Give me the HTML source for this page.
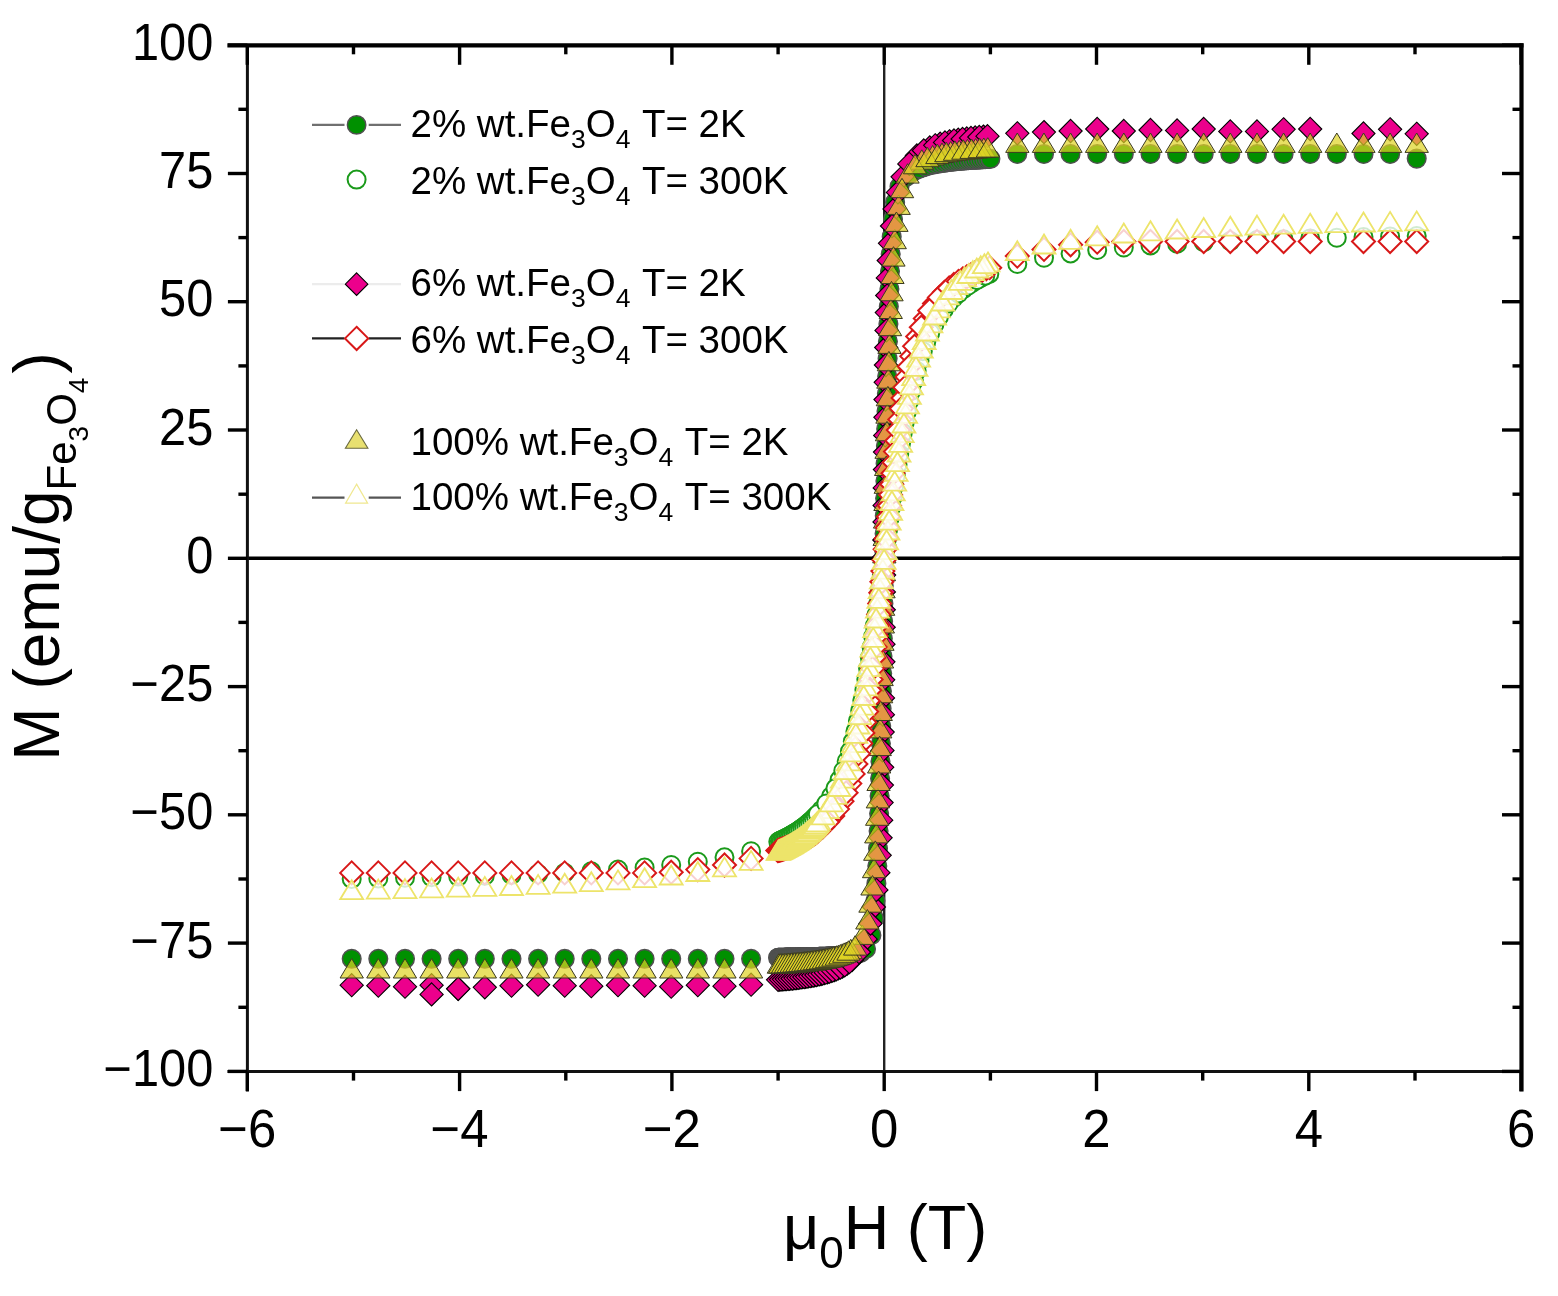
<!DOCTYPE html>
<html><head><meta charset="utf-8"><title>M vs H</title>
<style>
html,body{margin:0;padding:0;background:#fff;}
svg{display:block;filter:blur(0.6px);}
text{font-family:"Liberation Sans",Arial,sans-serif;fill:#000;}
</style></head><body>
<svg width="1558" height="1296" viewBox="0 0 1558 1296">
<rect width="1558" height="1296" fill="#fff"/>
<line x1="247.4" y1="558.3" x2="1521.5" y2="558.3" stroke="#000" stroke-width="3.5"/>
<line x1="884.2" y1="45.3" x2="884.2" y2="1071.6" stroke="#222" stroke-width="2.4"/>
<line x1="227.4" y1="45.3" x2="1523.5" y2="45.3" stroke="#000" stroke-width="4.2"/>
<line x1="1521.5" y1="43.3" x2="1521.5" y2="1091.6" stroke="#000" stroke-width="4.2"/>
<line x1="247.4" y1="45.3" x2="247.4" y2="1091.6" stroke="#111" stroke-width="3"/>
<line x1="227.4" y1="1071.6" x2="1521.5" y2="1071.6" stroke="#111" stroke-width="3"/>
<line x1="227.9" y1="1071.4" x2="247.4" y2="1071.4" stroke="#000" stroke-width="3.4"/>
<line x1="1502.0" y1="1071.4" x2="1521.5" y2="1071.4" stroke="#000" stroke-width="3.4"/>
<line x1="238.4" y1="1007.3" x2="247.4" y2="1007.3" stroke="#000" stroke-width="3.4"/>
<line x1="1512.5" y1="1007.3" x2="1521.5" y2="1007.3" stroke="#000" stroke-width="3.4"/>
<line x1="227.9" y1="943.1" x2="247.4" y2="943.1" stroke="#000" stroke-width="3.4"/>
<line x1="1502.0" y1="943.1" x2="1521.5" y2="943.1" stroke="#000" stroke-width="3.4"/>
<line x1="238.4" y1="879.0" x2="247.4" y2="879.0" stroke="#000" stroke-width="3.4"/>
<line x1="1512.5" y1="879.0" x2="1521.5" y2="879.0" stroke="#000" stroke-width="3.4"/>
<line x1="227.9" y1="814.8" x2="247.4" y2="814.8" stroke="#000" stroke-width="3.4"/>
<line x1="1502.0" y1="814.8" x2="1521.5" y2="814.8" stroke="#000" stroke-width="3.4"/>
<line x1="238.4" y1="750.7" x2="247.4" y2="750.7" stroke="#000" stroke-width="3.4"/>
<line x1="1512.5" y1="750.7" x2="1521.5" y2="750.7" stroke="#000" stroke-width="3.4"/>
<line x1="227.9" y1="686.6" x2="247.4" y2="686.6" stroke="#000" stroke-width="3.4"/>
<line x1="1502.0" y1="686.6" x2="1521.5" y2="686.6" stroke="#000" stroke-width="3.4"/>
<line x1="238.4" y1="622.4" x2="247.4" y2="622.4" stroke="#000" stroke-width="3.4"/>
<line x1="1512.5" y1="622.4" x2="1521.5" y2="622.4" stroke="#000" stroke-width="3.4"/>
<line x1="227.9" y1="558.3" x2="247.4" y2="558.3" stroke="#000" stroke-width="3.4"/>
<line x1="1502.0" y1="558.3" x2="1521.5" y2="558.3" stroke="#000" stroke-width="3.4"/>
<line x1="238.4" y1="494.2" x2="247.4" y2="494.2" stroke="#000" stroke-width="3.4"/>
<line x1="1512.5" y1="494.2" x2="1521.5" y2="494.2" stroke="#000" stroke-width="3.4"/>
<line x1="227.9" y1="430.0" x2="247.4" y2="430.0" stroke="#000" stroke-width="3.4"/>
<line x1="1502.0" y1="430.0" x2="1521.5" y2="430.0" stroke="#000" stroke-width="3.4"/>
<line x1="238.4" y1="365.9" x2="247.4" y2="365.9" stroke="#000" stroke-width="3.4"/>
<line x1="1512.5" y1="365.9" x2="1521.5" y2="365.9" stroke="#000" stroke-width="3.4"/>
<line x1="227.9" y1="301.7" x2="247.4" y2="301.7" stroke="#000" stroke-width="3.4"/>
<line x1="1502.0" y1="301.7" x2="1521.5" y2="301.7" stroke="#000" stroke-width="3.4"/>
<line x1="238.4" y1="237.6" x2="247.4" y2="237.6" stroke="#000" stroke-width="3.4"/>
<line x1="1512.5" y1="237.6" x2="1521.5" y2="237.6" stroke="#000" stroke-width="3.4"/>
<line x1="227.9" y1="173.5" x2="247.4" y2="173.5" stroke="#000" stroke-width="3.4"/>
<line x1="1502.0" y1="173.5" x2="1521.5" y2="173.5" stroke="#000" stroke-width="3.4"/>
<line x1="238.4" y1="109.3" x2="247.4" y2="109.3" stroke="#000" stroke-width="3.4"/>
<line x1="1512.5" y1="109.3" x2="1521.5" y2="109.3" stroke="#000" stroke-width="3.4"/>
<line x1="227.9" y1="45.2" x2="247.4" y2="45.2" stroke="#000" stroke-width="3.4"/>
<line x1="1502.0" y1="45.2" x2="1521.5" y2="45.2" stroke="#000" stroke-width="3.4"/>
<line x1="247.3" y1="1071.6" x2="247.3" y2="1091.1" stroke="#000" stroke-width="3.4"/>
<line x1="247.3" y1="45.3" x2="247.3" y2="64.8" stroke="#000" stroke-width="3.4"/>
<line x1="353.5" y1="1071.6" x2="353.5" y2="1080.6" stroke="#000" stroke-width="3.4"/>
<line x1="353.5" y1="45.3" x2="353.5" y2="54.3" stroke="#000" stroke-width="3.4"/>
<line x1="459.6" y1="1071.6" x2="459.6" y2="1091.1" stroke="#000" stroke-width="3.4"/>
<line x1="459.6" y1="45.3" x2="459.6" y2="64.8" stroke="#000" stroke-width="3.4"/>
<line x1="565.8" y1="1071.6" x2="565.8" y2="1080.6" stroke="#000" stroke-width="3.4"/>
<line x1="565.8" y1="45.3" x2="565.8" y2="54.3" stroke="#000" stroke-width="3.4"/>
<line x1="671.9" y1="1071.6" x2="671.9" y2="1091.1" stroke="#000" stroke-width="3.4"/>
<line x1="671.9" y1="45.3" x2="671.9" y2="64.8" stroke="#000" stroke-width="3.4"/>
<line x1="778.1" y1="1071.6" x2="778.1" y2="1080.6" stroke="#000" stroke-width="3.4"/>
<line x1="778.1" y1="45.3" x2="778.1" y2="54.3" stroke="#000" stroke-width="3.4"/>
<line x1="884.2" y1="1071.6" x2="884.2" y2="1091.1" stroke="#000" stroke-width="3.4"/>
<line x1="884.2" y1="45.3" x2="884.2" y2="64.8" stroke="#000" stroke-width="3.4"/>
<line x1="990.4" y1="1071.6" x2="990.4" y2="1080.6" stroke="#000" stroke-width="3.4"/>
<line x1="990.4" y1="45.3" x2="990.4" y2="54.3" stroke="#000" stroke-width="3.4"/>
<line x1="1096.5" y1="1071.6" x2="1096.5" y2="1091.1" stroke="#000" stroke-width="3.4"/>
<line x1="1096.5" y1="45.3" x2="1096.5" y2="64.8" stroke="#000" stroke-width="3.4"/>
<line x1="1202.7" y1="1071.6" x2="1202.7" y2="1080.6" stroke="#000" stroke-width="3.4"/>
<line x1="1202.7" y1="45.3" x2="1202.7" y2="54.3" stroke="#000" stroke-width="3.4"/>
<line x1="1308.8" y1="1071.6" x2="1308.8" y2="1091.1" stroke="#000" stroke-width="3.4"/>
<line x1="1308.8" y1="45.3" x2="1308.8" y2="64.8" stroke="#000" stroke-width="3.4"/>
<line x1="1415.0" y1="1071.6" x2="1415.0" y2="1080.6" stroke="#000" stroke-width="3.4"/>
<line x1="1415.0" y1="45.3" x2="1415.0" y2="54.3" stroke="#000" stroke-width="3.4"/>
<line x1="1521.1" y1="1071.6" x2="1521.1" y2="1091.1" stroke="#000" stroke-width="3.4"/>
<line x1="1521.1" y1="45.3" x2="1521.1" y2="64.8" stroke="#000" stroke-width="3.4"/>
<g>
<circle cx="1416.7" cy="158.6" r="9.3" fill="#009000" stroke="#505050" stroke-width="1.5"/>
<circle cx="1390.1" cy="154.0" r="9.3" fill="#009000" stroke="#505050" stroke-width="1.5"/>
<circle cx="1363.5" cy="154.0" r="9.3" fill="#009000" stroke="#505050" stroke-width="1.5"/>
<circle cx="1336.8" cy="154.0" r="9.3" fill="#009000" stroke="#505050" stroke-width="1.5"/>
<circle cx="1310.2" cy="154.0" r="9.3" fill="#009000" stroke="#505050" stroke-width="1.5"/>
<circle cx="1283.6" cy="154.0" r="9.3" fill="#009000" stroke="#505050" stroke-width="1.5"/>
<circle cx="1257.0" cy="154.0" r="9.3" fill="#009000" stroke="#505050" stroke-width="1.5"/>
<circle cx="1230.3" cy="154.0" r="9.3" fill="#009000" stroke="#505050" stroke-width="1.5"/>
<circle cx="1203.7" cy="154.0" r="9.3" fill="#009000" stroke="#505050" stroke-width="1.5"/>
<circle cx="1177.1" cy="154.0" r="9.3" fill="#009000" stroke="#505050" stroke-width="1.5"/>
<circle cx="1150.5" cy="154.0" r="9.3" fill="#009000" stroke="#505050" stroke-width="1.5"/>
<circle cx="1123.8" cy="154.0" r="9.3" fill="#009000" stroke="#505050" stroke-width="1.5"/>
<circle cx="1097.2" cy="154.0" r="9.3" fill="#009000" stroke="#505050" stroke-width="1.5"/>
<circle cx="1070.6" cy="154.0" r="9.3" fill="#009000" stroke="#505050" stroke-width="1.5"/>
<circle cx="1044.0" cy="154.0" r="9.3" fill="#009000" stroke="#505050" stroke-width="1.5"/>
<circle cx="1017.3" cy="154.0" r="9.3" fill="#009000" stroke="#505050" stroke-width="1.5"/>
<circle cx="989.1" cy="158.9" r="9.3" fill="#009000" stroke="#505050" stroke-width="1.5"/>
<circle cx="986.6" cy="159.0" r="9.3" fill="#009000" stroke="#505050" stroke-width="1.5"/>
<circle cx="984.0" cy="159.2" r="9.3" fill="#009000" stroke="#505050" stroke-width="1.5"/>
<circle cx="981.4" cy="159.3" r="9.3" fill="#009000" stroke="#505050" stroke-width="1.5"/>
<circle cx="978.8" cy="159.4" r="9.3" fill="#009000" stroke="#505050" stroke-width="1.5"/>
<circle cx="976.2" cy="159.6" r="9.3" fill="#009000" stroke="#505050" stroke-width="1.5"/>
<circle cx="973.6" cy="159.8" r="9.3" fill="#009000" stroke="#505050" stroke-width="1.5"/>
<circle cx="970.9" cy="159.9" r="9.3" fill="#009000" stroke="#505050" stroke-width="1.5"/>
<circle cx="968.3" cy="160.1" r="9.3" fill="#009000" stroke="#505050" stroke-width="1.5"/>
<circle cx="965.6" cy="160.3" r="9.3" fill="#009000" stroke="#505050" stroke-width="1.5"/>
<circle cx="962.9" cy="160.5" r="9.3" fill="#009000" stroke="#505050" stroke-width="1.5"/>
<circle cx="960.2" cy="160.8" r="9.3" fill="#009000" stroke="#505050" stroke-width="1.5"/>
<circle cx="957.4" cy="161.0" r="9.3" fill="#009000" stroke="#505050" stroke-width="1.5"/>
<circle cx="954.6" cy="161.3" r="9.3" fill="#009000" stroke="#505050" stroke-width="1.5"/>
<circle cx="951.7" cy="161.6" r="9.3" fill="#009000" stroke="#505050" stroke-width="1.5"/>
<circle cx="948.8" cy="162.0" r="9.3" fill="#009000" stroke="#505050" stroke-width="1.5"/>
<circle cx="945.8" cy="162.4" r="9.3" fill="#009000" stroke="#505050" stroke-width="1.5"/>
<circle cx="942.7" cy="162.8" r="9.3" fill="#009000" stroke="#505050" stroke-width="1.5"/>
<circle cx="939.4" cy="163.3" r="9.3" fill="#009000" stroke="#505050" stroke-width="1.5"/>
<circle cx="935.9" cy="164.0" r="9.3" fill="#009000" stroke="#505050" stroke-width="1.5"/>
<circle cx="932.1" cy="164.8" r="9.3" fill="#009000" stroke="#505050" stroke-width="1.5"/>
<circle cx="927.9" cy="165.8" r="9.3" fill="#009000" stroke="#505050" stroke-width="1.5"/>
<circle cx="922.9" cy="167.3" r="9.3" fill="#009000" stroke="#505050" stroke-width="1.5"/>
<circle cx="916.4" cy="170.0" r="9.3" fill="#009000" stroke="#505050" stroke-width="1.5"/>
<circle cx="906.2" cy="176.9" r="9.3" fill="#009000" stroke="#505050" stroke-width="1.5"/>
<circle cx="895.1" cy="202.2" r="9.3" fill="#009000" stroke="#505050" stroke-width="1.5"/>
<circle cx="891.7" cy="236.7" r="9.3" fill="#009000" stroke="#505050" stroke-width="1.5"/>
<circle cx="890.0" cy="271.3" r="9.3" fill="#009000" stroke="#505050" stroke-width="1.5"/>
<circle cx="888.8" cy="306.5" r="9.3" fill="#009000" stroke="#505050" stroke-width="1.5"/>
<circle cx="887.9" cy="341.4" r="9.3" fill="#009000" stroke="#505050" stroke-width="1.5"/>
<circle cx="887.2" cy="376.2" r="9.3" fill="#009000" stroke="#505050" stroke-width="1.5"/>
<circle cx="886.5" cy="411.2" r="9.3" fill="#009000" stroke="#505050" stroke-width="1.5"/>
<circle cx="885.9" cy="446.0" r="9.3" fill="#009000" stroke="#505050" stroke-width="1.5"/>
<circle cx="885.4" cy="481.1" r="9.3" fill="#009000" stroke="#505050" stroke-width="1.5"/>
<circle cx="884.8" cy="515.7" r="9.3" fill="#009000" stroke="#505050" stroke-width="1.5"/>
<circle cx="884.3" cy="551.2" r="9.3" fill="#009000" stroke="#505050" stroke-width="1.5"/>
<circle cx="883.7" cy="585.8" r="9.3" fill="#009000" stroke="#505050" stroke-width="1.5"/>
<circle cx="883.1" cy="621.2" r="9.3" fill="#009000" stroke="#505050" stroke-width="1.5"/>
<circle cx="882.5" cy="656.2" r="9.3" fill="#009000" stroke="#505050" stroke-width="1.5"/>
<circle cx="881.9" cy="691.2" r="9.3" fill="#009000" stroke="#505050" stroke-width="1.5"/>
<circle cx="881.2" cy="726.1" r="9.3" fill="#009000" stroke="#505050" stroke-width="1.5"/>
<circle cx="880.5" cy="761.3" r="9.3" fill="#009000" stroke="#505050" stroke-width="1.5"/>
<circle cx="879.6" cy="796.1" r="9.3" fill="#009000" stroke="#505050" stroke-width="1.5"/>
<circle cx="878.6" cy="831.1" r="9.3" fill="#009000" stroke="#505050" stroke-width="1.5"/>
<circle cx="877.3" cy="866.1" r="9.3" fill="#009000" stroke="#505050" stroke-width="1.5"/>
<circle cx="875.4" cy="900.8" r="9.3" fill="#009000" stroke="#505050" stroke-width="1.5"/>
<circle cx="871.4" cy="935.2" r="9.3" fill="#009000" stroke="#505050" stroke-width="1.5"/>
<circle cx="861.0" cy="952.6" r="9.3" fill="#009000" stroke="#505050" stroke-width="1.5"/>
<circle cx="856.2" cy="954.0" r="9.3" fill="#009000" stroke="#505050" stroke-width="1.5"/>
<circle cx="852.8" cy="954.6" r="9.3" fill="#009000" stroke="#505050" stroke-width="1.5"/>
<circle cx="851.4" cy="954.8" r="9.3" fill="#009000" stroke="#505050" stroke-width="1.5"/>
<circle cx="850.3" cy="955.0" r="9.3" fill="#009000" stroke="#505050" stroke-width="1.5"/>
<circle cx="849.3" cy="955.1" r="9.3" fill="#009000" stroke="#505050" stroke-width="1.5"/>
<circle cx="848.3" cy="955.2" r="9.3" fill="#009000" stroke="#505050" stroke-width="1.5"/>
<circle cx="847.3" cy="955.3" r="9.3" fill="#009000" stroke="#505050" stroke-width="1.5"/>
<circle cx="846.3" cy="955.4" r="9.3" fill="#009000" stroke="#505050" stroke-width="1.5"/>
<circle cx="845.3" cy="955.5" r="9.3" fill="#009000" stroke="#505050" stroke-width="1.5"/>
<circle cx="844.4" cy="955.6" r="9.3" fill="#009000" stroke="#505050" stroke-width="1.5"/>
<circle cx="843.4" cy="955.7" r="9.3" fill="#009000" stroke="#505050" stroke-width="1.5"/>
<circle cx="842.5" cy="955.8" r="9.3" fill="#009000" stroke="#505050" stroke-width="1.5"/>
<circle cx="841.5" cy="955.8" r="9.3" fill="#009000" stroke="#505050" stroke-width="1.5"/>
<circle cx="840.6" cy="955.9" r="9.3" fill="#009000" stroke="#505050" stroke-width="1.5"/>
<circle cx="839.7" cy="956.0" r="9.3" fill="#009000" stroke="#505050" stroke-width="1.5"/>
<circle cx="838.7" cy="956.0" r="9.3" fill="#009000" stroke="#505050" stroke-width="1.5"/>
<circle cx="837.8" cy="956.1" r="9.3" fill="#009000" stroke="#505050" stroke-width="1.5"/>
<circle cx="836.9" cy="956.1" r="9.3" fill="#009000" stroke="#505050" stroke-width="1.5"/>
<circle cx="836.0" cy="956.2" r="9.3" fill="#009000" stroke="#505050" stroke-width="1.5"/>
<circle cx="835.1" cy="956.3" r="9.3" fill="#009000" stroke="#505050" stroke-width="1.5"/>
<circle cx="834.2" cy="956.3" r="9.3" fill="#009000" stroke="#505050" stroke-width="1.5"/>
<circle cx="833.3" cy="956.3" r="9.3" fill="#009000" stroke="#505050" stroke-width="1.5"/>
<circle cx="832.4" cy="956.4" r="9.3" fill="#009000" stroke="#505050" stroke-width="1.5"/>
<circle cx="831.5" cy="956.4" r="9.3" fill="#009000" stroke="#505050" stroke-width="1.5"/>
<circle cx="830.5" cy="956.5" r="9.3" fill="#009000" stroke="#505050" stroke-width="1.5"/>
<circle cx="829.7" cy="956.5" r="9.3" fill="#009000" stroke="#505050" stroke-width="1.5"/>
<circle cx="828.8" cy="956.6" r="9.3" fill="#009000" stroke="#505050" stroke-width="1.5"/>
<circle cx="827.9" cy="956.6" r="9.3" fill="#009000" stroke="#505050" stroke-width="1.5"/>
<circle cx="827.0" cy="956.6" r="9.3" fill="#009000" stroke="#505050" stroke-width="1.5"/>
<circle cx="826.1" cy="956.7" r="9.3" fill="#009000" stroke="#505050" stroke-width="1.5"/>
<circle cx="825.2" cy="956.7" r="9.3" fill="#009000" stroke="#505050" stroke-width="1.5"/>
<circle cx="824.3" cy="956.8" r="9.3" fill="#009000" stroke="#505050" stroke-width="1.5"/>
<circle cx="823.4" cy="956.8" r="9.3" fill="#009000" stroke="#505050" stroke-width="1.5"/>
<circle cx="822.5" cy="956.8" r="9.3" fill="#009000" stroke="#505050" stroke-width="1.5"/>
<circle cx="821.6" cy="956.8" r="9.3" fill="#009000" stroke="#505050" stroke-width="1.5"/>
<circle cx="820.7" cy="956.9" r="9.3" fill="#009000" stroke="#505050" stroke-width="1.5"/>
<circle cx="819.8" cy="956.9" r="9.3" fill="#009000" stroke="#505050" stroke-width="1.5"/>
<circle cx="819.0" cy="956.9" r="9.3" fill="#009000" stroke="#505050" stroke-width="1.5"/>
<circle cx="818.1" cy="957.0" r="9.3" fill="#009000" stroke="#505050" stroke-width="1.5"/>
<circle cx="817.2" cy="957.0" r="9.3" fill="#009000" stroke="#505050" stroke-width="1.5"/>
<circle cx="816.3" cy="957.0" r="9.3" fill="#009000" stroke="#505050" stroke-width="1.5"/>
<circle cx="815.4" cy="957.0" r="9.3" fill="#009000" stroke="#505050" stroke-width="1.5"/>
<circle cx="814.5" cy="957.1" r="9.3" fill="#009000" stroke="#505050" stroke-width="1.5"/>
<circle cx="813.6" cy="957.1" r="9.3" fill="#009000" stroke="#505050" stroke-width="1.5"/>
<circle cx="812.8" cy="957.1" r="9.3" fill="#009000" stroke="#505050" stroke-width="1.5"/>
<circle cx="811.9" cy="957.1" r="9.3" fill="#009000" stroke="#505050" stroke-width="1.5"/>
<circle cx="811.0" cy="957.2" r="9.3" fill="#009000" stroke="#505050" stroke-width="1.5"/>
<circle cx="810.1" cy="957.2" r="9.3" fill="#009000" stroke="#505050" stroke-width="1.5"/>
<circle cx="809.2" cy="957.2" r="9.3" fill="#009000" stroke="#505050" stroke-width="1.5"/>
<circle cx="808.4" cy="957.2" r="9.3" fill="#009000" stroke="#505050" stroke-width="1.5"/>
<circle cx="807.5" cy="957.3" r="9.3" fill="#009000" stroke="#505050" stroke-width="1.5"/>
<circle cx="806.6" cy="957.3" r="9.3" fill="#009000" stroke="#505050" stroke-width="1.5"/>
<circle cx="805.7" cy="957.3" r="9.3" fill="#009000" stroke="#505050" stroke-width="1.5"/>
<circle cx="804.8" cy="957.3" r="9.3" fill="#009000" stroke="#505050" stroke-width="1.5"/>
<circle cx="804.0" cy="957.3" r="9.3" fill="#009000" stroke="#505050" stroke-width="1.5"/>
<circle cx="803.1" cy="957.3" r="9.3" fill="#009000" stroke="#505050" stroke-width="1.5"/>
<circle cx="802.2" cy="957.4" r="9.3" fill="#009000" stroke="#505050" stroke-width="1.5"/>
<circle cx="801.3" cy="957.4" r="9.3" fill="#009000" stroke="#505050" stroke-width="1.5"/>
<circle cx="800.4" cy="957.4" r="9.3" fill="#009000" stroke="#505050" stroke-width="1.5"/>
<circle cx="799.6" cy="957.4" r="9.3" fill="#009000" stroke="#505050" stroke-width="1.5"/>
<circle cx="798.7" cy="957.4" r="9.3" fill="#009000" stroke="#505050" stroke-width="1.5"/>
<circle cx="797.8" cy="957.5" r="9.3" fill="#009000" stroke="#505050" stroke-width="1.5"/>
<circle cx="796.9" cy="957.5" r="9.3" fill="#009000" stroke="#505050" stroke-width="1.5"/>
<circle cx="796.0" cy="957.5" r="9.3" fill="#009000" stroke="#505050" stroke-width="1.5"/>
<circle cx="795.2" cy="957.5" r="9.3" fill="#009000" stroke="#505050" stroke-width="1.5"/>
<circle cx="794.3" cy="957.5" r="9.3" fill="#009000" stroke="#505050" stroke-width="1.5"/>
<circle cx="793.4" cy="957.5" r="9.3" fill="#009000" stroke="#505050" stroke-width="1.5"/>
<circle cx="792.5" cy="957.5" r="9.3" fill="#009000" stroke="#505050" stroke-width="1.5"/>
<circle cx="791.7" cy="957.6" r="9.3" fill="#009000" stroke="#505050" stroke-width="1.5"/>
<circle cx="790.8" cy="957.6" r="9.3" fill="#009000" stroke="#505050" stroke-width="1.5"/>
<circle cx="789.9" cy="957.6" r="9.3" fill="#009000" stroke="#505050" stroke-width="1.5"/>
<circle cx="789.0" cy="957.6" r="9.3" fill="#009000" stroke="#505050" stroke-width="1.5"/>
<circle cx="788.1" cy="957.6" r="9.3" fill="#009000" stroke="#505050" stroke-width="1.5"/>
<circle cx="787.3" cy="957.6" r="9.3" fill="#009000" stroke="#505050" stroke-width="1.5"/>
<circle cx="786.4" cy="957.6" r="9.3" fill="#009000" stroke="#505050" stroke-width="1.5"/>
<circle cx="785.5" cy="957.6" r="9.3" fill="#009000" stroke="#505050" stroke-width="1.5"/>
<circle cx="784.6" cy="957.7" r="9.3" fill="#009000" stroke="#505050" stroke-width="1.5"/>
<circle cx="783.8" cy="957.7" r="9.3" fill="#009000" stroke="#505050" stroke-width="1.5"/>
<circle cx="782.9" cy="957.7" r="9.3" fill="#009000" stroke="#505050" stroke-width="1.5"/>
<circle cx="782.0" cy="957.7" r="9.3" fill="#009000" stroke="#505050" stroke-width="1.5"/>
<circle cx="781.1" cy="957.7" r="9.3" fill="#009000" stroke="#505050" stroke-width="1.5"/>
<circle cx="780.2" cy="957.7" r="9.3" fill="#009000" stroke="#505050" stroke-width="1.5"/>
<circle cx="779.4" cy="957.7" r="9.3" fill="#009000" stroke="#505050" stroke-width="1.5"/>
<circle cx="778.5" cy="957.7" r="9.3" fill="#009000" stroke="#505050" stroke-width="1.5"/>
<circle cx="751.1" cy="958.8" r="9.3" fill="#009000" stroke="#505050" stroke-width="1.5"/>
<circle cx="724.5" cy="958.8" r="9.3" fill="#009000" stroke="#505050" stroke-width="1.5"/>
<circle cx="697.8" cy="958.8" r="9.3" fill="#009000" stroke="#505050" stroke-width="1.5"/>
<circle cx="671.2" cy="958.8" r="9.3" fill="#009000" stroke="#505050" stroke-width="1.5"/>
<circle cx="644.6" cy="958.8" r="9.3" fill="#009000" stroke="#505050" stroke-width="1.5"/>
<circle cx="618.0" cy="958.8" r="9.3" fill="#009000" stroke="#505050" stroke-width="1.5"/>
<circle cx="591.3" cy="958.8" r="9.3" fill="#009000" stroke="#505050" stroke-width="1.5"/>
<circle cx="564.7" cy="958.8" r="9.3" fill="#009000" stroke="#505050" stroke-width="1.5"/>
<circle cx="538.1" cy="958.8" r="9.3" fill="#009000" stroke="#505050" stroke-width="1.5"/>
<circle cx="511.5" cy="958.8" r="9.3" fill="#009000" stroke="#505050" stroke-width="1.5"/>
<circle cx="484.8" cy="958.8" r="9.3" fill="#009000" stroke="#505050" stroke-width="1.5"/>
<circle cx="458.2" cy="958.8" r="9.3" fill="#009000" stroke="#505050" stroke-width="1.5"/>
<circle cx="431.6" cy="958.8" r="9.3" fill="#009000" stroke="#505050" stroke-width="1.5"/>
<circle cx="405.0" cy="958.8" r="9.3" fill="#009000" stroke="#505050" stroke-width="1.5"/>
<circle cx="378.3" cy="958.8" r="9.3" fill="#009000" stroke="#505050" stroke-width="1.5"/>
<circle cx="351.7" cy="958.8" r="9.3" fill="#009000" stroke="#505050" stroke-width="1.5"/>
<circle cx="778.1" cy="957.7" r="9.3" fill="#009000" stroke="#505050" stroke-width="1.5"/>
<circle cx="778.9" cy="957.7" r="9.3" fill="#009000" stroke="#505050" stroke-width="1.5"/>
<circle cx="779.8" cy="957.7" r="9.3" fill="#009000" stroke="#505050" stroke-width="1.5"/>
<circle cx="780.7" cy="957.7" r="9.3" fill="#009000" stroke="#505050" stroke-width="1.5"/>
<circle cx="781.6" cy="957.7" r="9.3" fill="#009000" stroke="#505050" stroke-width="1.5"/>
<circle cx="782.4" cy="957.7" r="9.3" fill="#009000" stroke="#505050" stroke-width="1.5"/>
<circle cx="783.3" cy="957.7" r="9.3" fill="#009000" stroke="#505050" stroke-width="1.5"/>
<circle cx="784.2" cy="957.7" r="9.3" fill="#009000" stroke="#505050" stroke-width="1.5"/>
<circle cx="785.1" cy="957.7" r="9.3" fill="#009000" stroke="#505050" stroke-width="1.5"/>
<circle cx="785.9" cy="957.6" r="9.3" fill="#009000" stroke="#505050" stroke-width="1.5"/>
<circle cx="786.8" cy="957.6" r="9.3" fill="#009000" stroke="#505050" stroke-width="1.5"/>
<circle cx="787.7" cy="957.6" r="9.3" fill="#009000" stroke="#505050" stroke-width="1.5"/>
<circle cx="788.6" cy="957.6" r="9.3" fill="#009000" stroke="#505050" stroke-width="1.5"/>
<circle cx="789.5" cy="957.6" r="9.3" fill="#009000" stroke="#505050" stroke-width="1.5"/>
<circle cx="790.3" cy="957.6" r="9.3" fill="#009000" stroke="#505050" stroke-width="1.5"/>
<circle cx="791.2" cy="957.6" r="9.3" fill="#009000" stroke="#505050" stroke-width="1.5"/>
<circle cx="792.1" cy="957.5" r="9.3" fill="#009000" stroke="#505050" stroke-width="1.5"/>
<circle cx="793.0" cy="957.5" r="9.3" fill="#009000" stroke="#505050" stroke-width="1.5"/>
<circle cx="793.8" cy="957.5" r="9.3" fill="#009000" stroke="#505050" stroke-width="1.5"/>
<circle cx="794.7" cy="957.5" r="9.3" fill="#009000" stroke="#505050" stroke-width="1.5"/>
<circle cx="795.6" cy="957.5" r="9.3" fill="#009000" stroke="#505050" stroke-width="1.5"/>
<circle cx="796.5" cy="957.5" r="9.3" fill="#009000" stroke="#505050" stroke-width="1.5"/>
<circle cx="797.4" cy="957.5" r="9.3" fill="#009000" stroke="#505050" stroke-width="1.5"/>
<circle cx="798.2" cy="957.4" r="9.3" fill="#009000" stroke="#505050" stroke-width="1.5"/>
<circle cx="799.1" cy="957.4" r="9.3" fill="#009000" stroke="#505050" stroke-width="1.5"/>
<circle cx="800.0" cy="957.4" r="9.3" fill="#009000" stroke="#505050" stroke-width="1.5"/>
<circle cx="800.9" cy="957.4" r="9.3" fill="#009000" stroke="#505050" stroke-width="1.5"/>
<circle cx="801.8" cy="957.4" r="9.3" fill="#009000" stroke="#505050" stroke-width="1.5"/>
<circle cx="802.6" cy="957.4" r="9.3" fill="#009000" stroke="#505050" stroke-width="1.5"/>
<circle cx="803.5" cy="957.3" r="9.3" fill="#009000" stroke="#505050" stroke-width="1.5"/>
<circle cx="804.4" cy="957.3" r="9.3" fill="#009000" stroke="#505050" stroke-width="1.5"/>
<circle cx="805.3" cy="957.3" r="9.3" fill="#009000" stroke="#505050" stroke-width="1.5"/>
<circle cx="806.2" cy="957.3" r="9.3" fill="#009000" stroke="#505050" stroke-width="1.5"/>
<circle cx="807.0" cy="957.3" r="9.3" fill="#009000" stroke="#505050" stroke-width="1.5"/>
<circle cx="807.9" cy="957.2" r="9.3" fill="#009000" stroke="#505050" stroke-width="1.5"/>
<circle cx="808.8" cy="957.2" r="9.3" fill="#009000" stroke="#505050" stroke-width="1.5"/>
<circle cx="809.7" cy="957.2" r="9.3" fill="#009000" stroke="#505050" stroke-width="1.5"/>
<circle cx="810.6" cy="957.2" r="9.3" fill="#009000" stroke="#505050" stroke-width="1.5"/>
<circle cx="811.4" cy="957.2" r="9.3" fill="#009000" stroke="#505050" stroke-width="1.5"/>
<circle cx="812.3" cy="957.1" r="9.3" fill="#009000" stroke="#505050" stroke-width="1.5"/>
<circle cx="813.2" cy="957.1" r="9.3" fill="#009000" stroke="#505050" stroke-width="1.5"/>
<circle cx="814.1" cy="957.1" r="9.3" fill="#009000" stroke="#505050" stroke-width="1.5"/>
<circle cx="815.0" cy="957.1" r="9.3" fill="#009000" stroke="#505050" stroke-width="1.5"/>
<circle cx="815.9" cy="957.0" r="9.3" fill="#009000" stroke="#505050" stroke-width="1.5"/>
<circle cx="816.7" cy="957.0" r="9.3" fill="#009000" stroke="#505050" stroke-width="1.5"/>
<circle cx="817.6" cy="957.0" r="9.3" fill="#009000" stroke="#505050" stroke-width="1.5"/>
<circle cx="818.5" cy="957.0" r="9.3" fill="#009000" stroke="#505050" stroke-width="1.5"/>
<circle cx="819.4" cy="956.9" r="9.3" fill="#009000" stroke="#505050" stroke-width="1.5"/>
<circle cx="820.3" cy="956.9" r="9.3" fill="#009000" stroke="#505050" stroke-width="1.5"/>
<circle cx="821.2" cy="956.9" r="9.3" fill="#009000" stroke="#505050" stroke-width="1.5"/>
<circle cx="822.1" cy="956.8" r="9.3" fill="#009000" stroke="#505050" stroke-width="1.5"/>
<circle cx="823.0" cy="956.8" r="9.3" fill="#009000" stroke="#505050" stroke-width="1.5"/>
<circle cx="823.8" cy="956.8" r="9.3" fill="#009000" stroke="#505050" stroke-width="1.5"/>
<circle cx="824.7" cy="956.7" r="9.3" fill="#009000" stroke="#505050" stroke-width="1.5"/>
<circle cx="825.6" cy="956.7" r="9.3" fill="#009000" stroke="#505050" stroke-width="1.5"/>
<circle cx="826.5" cy="956.7" r="9.3" fill="#009000" stroke="#505050" stroke-width="1.5"/>
<circle cx="827.4" cy="956.6" r="9.3" fill="#009000" stroke="#505050" stroke-width="1.5"/>
<circle cx="828.3" cy="956.6" r="9.3" fill="#009000" stroke="#505050" stroke-width="1.5"/>
<circle cx="829.2" cy="956.5" r="9.3" fill="#009000" stroke="#505050" stroke-width="1.5"/>
<circle cx="830.1" cy="956.5" r="9.3" fill="#009000" stroke="#505050" stroke-width="1.5"/>
<circle cx="831.0" cy="956.5" r="9.3" fill="#009000" stroke="#505050" stroke-width="1.5"/>
<circle cx="831.9" cy="956.4" r="9.3" fill="#009000" stroke="#505050" stroke-width="1.5"/>
<circle cx="832.8" cy="956.4" r="9.3" fill="#009000" stroke="#505050" stroke-width="1.5"/>
<circle cx="833.7" cy="956.3" r="9.3" fill="#009000" stroke="#505050" stroke-width="1.5"/>
<circle cx="834.6" cy="956.3" r="9.3" fill="#009000" stroke="#505050" stroke-width="1.5"/>
<circle cx="835.5" cy="956.2" r="9.3" fill="#009000" stroke="#505050" stroke-width="1.5"/>
<circle cx="836.4" cy="956.2" r="9.3" fill="#009000" stroke="#505050" stroke-width="1.5"/>
<circle cx="837.4" cy="956.1" r="9.3" fill="#009000" stroke="#505050" stroke-width="1.5"/>
<circle cx="838.3" cy="956.1" r="9.3" fill="#009000" stroke="#505050" stroke-width="1.5"/>
<circle cx="839.2" cy="956.0" r="9.3" fill="#009000" stroke="#505050" stroke-width="1.5"/>
<circle cx="840.1" cy="955.9" r="9.3" fill="#009000" stroke="#505050" stroke-width="1.5"/>
<circle cx="841.1" cy="955.9" r="9.3" fill="#009000" stroke="#505050" stroke-width="1.5"/>
<circle cx="842.0" cy="955.8" r="9.3" fill="#009000" stroke="#505050" stroke-width="1.5"/>
<circle cx="842.9" cy="955.7" r="9.3" fill="#009000" stroke="#505050" stroke-width="1.5"/>
<circle cx="843.9" cy="955.6" r="9.3" fill="#009000" stroke="#505050" stroke-width="1.5"/>
<circle cx="844.8" cy="955.6" r="9.3" fill="#009000" stroke="#505050" stroke-width="1.5"/>
<circle cx="845.8" cy="955.5" r="9.3" fill="#009000" stroke="#505050" stroke-width="1.5"/>
<circle cx="846.8" cy="955.4" r="9.3" fill="#009000" stroke="#505050" stroke-width="1.5"/>
<circle cx="847.8" cy="955.3" r="9.3" fill="#009000" stroke="#505050" stroke-width="1.5"/>
<circle cx="848.8" cy="955.2" r="9.3" fill="#009000" stroke="#505050" stroke-width="1.5"/>
<circle cx="849.8" cy="955.0" r="9.3" fill="#009000" stroke="#505050" stroke-width="1.5"/>
<circle cx="850.8" cy="954.9" r="9.3" fill="#009000" stroke="#505050" stroke-width="1.5"/>
<circle cx="851.9" cy="954.8" r="9.3" fill="#009000" stroke="#505050" stroke-width="1.5"/>
<circle cx="854.4" cy="954.4" r="9.3" fill="#009000" stroke="#505050" stroke-width="1.5"/>
<circle cx="858.3" cy="953.5" r="9.3" fill="#009000" stroke="#505050" stroke-width="1.5"/>
<circle cx="866.0" cy="949.0" r="9.3" fill="#009000" stroke="#505050" stroke-width="1.5"/>
<circle cx="873.9" cy="918.2" r="9.3" fill="#009000" stroke="#505050" stroke-width="1.5"/>
<circle cx="876.4" cy="883.5" r="9.3" fill="#009000" stroke="#505050" stroke-width="1.5"/>
<circle cx="878.0" cy="848.6" r="9.3" fill="#009000" stroke="#505050" stroke-width="1.5"/>
<circle cx="879.1" cy="813.4" r="9.3" fill="#009000" stroke="#505050" stroke-width="1.5"/>
<circle cx="880.1" cy="778.4" r="9.3" fill="#009000" stroke="#505050" stroke-width="1.5"/>
<circle cx="880.9" cy="743.4" r="9.3" fill="#009000" stroke="#505050" stroke-width="1.5"/>
<circle cx="881.6" cy="708.5" r="9.3" fill="#009000" stroke="#505050" stroke-width="1.5"/>
<circle cx="882.2" cy="673.4" r="9.3" fill="#009000" stroke="#505050" stroke-width="1.5"/>
<circle cx="882.8" cy="638.6" r="9.3" fill="#009000" stroke="#505050" stroke-width="1.5"/>
<circle cx="883.4" cy="603.6" r="9.3" fill="#009000" stroke="#505050" stroke-width="1.5"/>
<circle cx="884.0" cy="568.6" r="9.3" fill="#009000" stroke="#505050" stroke-width="1.5"/>
<circle cx="884.6" cy="533.4" r="9.3" fill="#009000" stroke="#505050" stroke-width="1.5"/>
<circle cx="885.1" cy="498.3" r="9.3" fill="#009000" stroke="#505050" stroke-width="1.5"/>
<circle cx="885.6" cy="463.6" r="9.3" fill="#009000" stroke="#505050" stroke-width="1.5"/>
<circle cx="886.2" cy="428.9" r="9.3" fill="#009000" stroke="#505050" stroke-width="1.5"/>
<circle cx="886.9" cy="393.8" r="9.3" fill="#009000" stroke="#505050" stroke-width="1.5"/>
<circle cx="887.6" cy="358.6" r="9.3" fill="#009000" stroke="#505050" stroke-width="1.5"/>
<circle cx="888.4" cy="323.9" r="9.3" fill="#009000" stroke="#505050" stroke-width="1.5"/>
<circle cx="889.4" cy="289.0" r="9.3" fill="#009000" stroke="#505050" stroke-width="1.5"/>
<circle cx="890.7" cy="254.0" r="9.3" fill="#009000" stroke="#505050" stroke-width="1.5"/>
<circle cx="893.0" cy="219.2" r="9.3" fill="#009000" stroke="#505050" stroke-width="1.5"/>
<circle cx="899.5" cy="186.6" r="9.3" fill="#009000" stroke="#505050" stroke-width="1.5"/>
<circle cx="912.0" cy="172.4" r="9.3" fill="#009000" stroke="#505050" stroke-width="1.5"/>
<circle cx="919.9" cy="168.4" r="9.3" fill="#009000" stroke="#505050" stroke-width="1.5"/>
<circle cx="925.6" cy="166.5" r="9.3" fill="#009000" stroke="#505050" stroke-width="1.5"/>
<circle cx="930.1" cy="165.2" r="9.3" fill="#009000" stroke="#505050" stroke-width="1.5"/>
<circle cx="934.1" cy="164.3" r="9.3" fill="#009000" stroke="#505050" stroke-width="1.5"/>
<circle cx="937.7" cy="163.6" r="9.3" fill="#009000" stroke="#505050" stroke-width="1.5"/>
<circle cx="941.0" cy="163.1" r="9.3" fill="#009000" stroke="#505050" stroke-width="1.5"/>
<circle cx="944.2" cy="162.6" r="9.3" fill="#009000" stroke="#505050" stroke-width="1.5"/>
<circle cx="947.3" cy="162.2" r="9.3" fill="#009000" stroke="#505050" stroke-width="1.5"/>
<circle cx="950.3" cy="161.8" r="9.3" fill="#009000" stroke="#505050" stroke-width="1.5"/>
<circle cx="953.2" cy="161.5" r="9.3" fill="#009000" stroke="#505050" stroke-width="1.5"/>
<circle cx="956.0" cy="161.2" r="9.3" fill="#009000" stroke="#505050" stroke-width="1.5"/>
<circle cx="958.8" cy="160.9" r="9.3" fill="#009000" stroke="#505050" stroke-width="1.5"/>
<circle cx="961.5" cy="160.7" r="9.3" fill="#009000" stroke="#505050" stroke-width="1.5"/>
<circle cx="964.3" cy="160.4" r="9.3" fill="#009000" stroke="#505050" stroke-width="1.5"/>
<circle cx="966.9" cy="160.2" r="9.3" fill="#009000" stroke="#505050" stroke-width="1.5"/>
<circle cx="969.6" cy="160.0" r="9.3" fill="#009000" stroke="#505050" stroke-width="1.5"/>
<circle cx="972.3" cy="159.8" r="9.3" fill="#009000" stroke="#505050" stroke-width="1.5"/>
<circle cx="974.9" cy="159.7" r="9.3" fill="#009000" stroke="#505050" stroke-width="1.5"/>
<circle cx="977.5" cy="159.5" r="9.3" fill="#009000" stroke="#505050" stroke-width="1.5"/>
<circle cx="980.1" cy="159.4" r="9.3" fill="#009000" stroke="#505050" stroke-width="1.5"/>
<circle cx="982.7" cy="159.2" r="9.3" fill="#009000" stroke="#505050" stroke-width="1.5"/>
<circle cx="985.3" cy="159.1" r="9.3" fill="#009000" stroke="#505050" stroke-width="1.5"/>
<circle cx="987.9" cy="159.0" r="9.3" fill="#009000" stroke="#505050" stroke-width="1.5"/>
<circle cx="990.4" cy="158.8" r="9.3" fill="#009000" stroke="#505050" stroke-width="1.5"/>
</g><g>
<path d="M1416.7 122.2L1428.3 133.8L1416.7 145.4L1405.1 133.8Z" fill="#EC008C" stroke="#000" stroke-width="1.1"/>
<path d="M1390.1 117.7L1401.7 129.3L1390.1 140.9L1378.5 129.3Z" fill="#EC008C" stroke="#000" stroke-width="1.1"/>
<path d="M1363.5 121.9L1375.0 133.5L1363.5 145.1L1351.9 133.5Z" fill="#EC008C" stroke="#000" stroke-width="1.1"/>
<path d="M1310.2 117.4L1321.8 129.0L1310.2 140.6L1298.6 129.0Z" fill="#EC008C" stroke="#000" stroke-width="1.1"/>
<path d="M1283.6 117.7L1295.2 129.3L1283.6 140.9L1272.0 129.3Z" fill="#EC008C" stroke="#000" stroke-width="1.1"/>
<path d="M1257.0 119.8L1268.5 131.4L1257.0 143.0L1245.4 131.4Z" fill="#EC008C" stroke="#000" stroke-width="1.1"/>
<path d="M1230.3 119.8L1241.9 131.4L1230.3 143.0L1218.7 131.4Z" fill="#EC008C" stroke="#000" stroke-width="1.1"/>
<path d="M1203.7 117.4L1215.3 129.0L1203.7 140.6L1192.1 129.0Z" fill="#EC008C" stroke="#000" stroke-width="1.1"/>
<path d="M1177.1 118.8L1188.7 130.4L1177.1 142.0L1165.5 130.4Z" fill="#EC008C" stroke="#000" stroke-width="1.1"/>
<path d="M1150.5 118.4L1162.0 130.0L1150.5 141.6L1138.9 130.0Z" fill="#EC008C" stroke="#000" stroke-width="1.1"/>
<path d="M1123.8 119.4L1135.4 131.0L1123.8 142.6L1112.2 131.0Z" fill="#EC008C" stroke="#000" stroke-width="1.1"/>
<path d="M1097.2 117.4L1108.8 129.0L1097.2 140.6L1085.6 129.0Z" fill="#EC008C" stroke="#000" stroke-width="1.1"/>
<path d="M1070.6 119.4L1082.2 131.0L1070.6 142.6L1059.0 131.0Z" fill="#EC008C" stroke="#000" stroke-width="1.1"/>
<path d="M1044.0 120.5L1055.5 132.1L1044.0 143.7L1032.4 132.1Z" fill="#EC008C" stroke="#000" stroke-width="1.1"/>
<path d="M1017.3 121.7L1028.9 133.3L1017.3 144.9L1005.7 133.3Z" fill="#EC008C" stroke="#000" stroke-width="1.1"/>
<path d="M983.4 125.0L995.0 136.6L983.4 148.2L971.8 136.6Z" fill="#EC008C" stroke="#000" stroke-width="1.1"/>
<path d="M975.2 125.8L986.8 137.4L975.2 149.0L963.6 137.4Z" fill="#EC008C" stroke="#000" stroke-width="1.1"/>
<path d="M966.8 126.8L978.4 138.4L966.8 150.0L955.2 138.4Z" fill="#EC008C" stroke="#000" stroke-width="1.1"/>
<path d="M958.3 128.1L969.9 139.7L958.3 151.3L946.7 139.7Z" fill="#EC008C" stroke="#000" stroke-width="1.1"/>
<path d="M949.5 129.7L961.1 141.3L949.5 152.9L937.9 141.3Z" fill="#EC008C" stroke="#000" stroke-width="1.1"/>
<path d="M940.2 132.1L951.8 143.7L940.2 155.3L928.6 143.7Z" fill="#EC008C" stroke="#000" stroke-width="1.1"/>
<path d="M929.8 135.8L941.4 147.4L929.8 159.0L918.2 147.4Z" fill="#EC008C" stroke="#000" stroke-width="1.1"/>
<path d="M916.9 143.8L928.5 155.4L916.9 167.0L905.3 155.4Z" fill="#EC008C" stroke="#000" stroke-width="1.1"/>
<path d="M902.6 165.2L914.2 176.8L902.6 188.4L891.0 176.8Z" fill="#EC008C" stroke="#000" stroke-width="1.1"/>
<path d="M894.5 197.4L906.1 209.0L894.5 220.6L882.9 209.0Z" fill="#EC008C" stroke="#000" stroke-width="1.1"/>
<path d="M890.0 231.7L901.6 243.3L890.0 254.9L878.4 243.3Z" fill="#EC008C" stroke="#000" stroke-width="1.1"/>
<path d="M887.8 266.3L899.4 277.9L887.8 289.5L876.2 277.9Z" fill="#EC008C" stroke="#000" stroke-width="1.1"/>
<path d="M886.8 301.0L898.4 312.6L886.8 324.2L875.2 312.6Z" fill="#EC008C" stroke="#000" stroke-width="1.1"/>
<path d="M886.2 335.9L897.8 347.5L886.2 359.1L874.6 347.5Z" fill="#EC008C" stroke="#000" stroke-width="1.1"/>
<path d="M885.7 370.7L897.3 382.3L885.7 393.9L874.1 382.3Z" fill="#EC008C" stroke="#000" stroke-width="1.1"/>
<path d="M885.4 405.7L897.0 417.3L885.4 428.9L873.8 417.3Z" fill="#EC008C" stroke="#000" stroke-width="1.1"/>
<path d="M885.0 440.5L896.6 452.1L885.0 463.7L873.4 452.1Z" fill="#EC008C" stroke="#000" stroke-width="1.1"/>
<path d="M884.7 476.3L896.3 487.9L884.7 499.5L873.1 487.9Z" fill="#EC008C" stroke="#000" stroke-width="1.1"/>
<path d="M884.5 510.3L896.1 521.9L884.5 533.5L872.9 521.9Z" fill="#EC008C" stroke="#000" stroke-width="1.1"/>
<path d="M884.2 545.3L895.8 556.9L884.2 568.5L872.6 556.9Z" fill="#EC008C" stroke="#000" stroke-width="1.1"/>
<path d="M883.9 580.3L895.5 591.9L883.9 603.5L872.3 591.9Z" fill="#EC008C" stroke="#000" stroke-width="1.1"/>
<path d="M883.7 615.6L895.3 627.2L883.7 638.8L872.1 627.2Z" fill="#EC008C" stroke="#000" stroke-width="1.1"/>
<path d="M883.4 650.2L895.0 661.8L883.4 673.4L871.8 661.8Z" fill="#EC008C" stroke="#000" stroke-width="1.1"/>
<path d="M883.0 686.3L894.6 697.9L883.0 709.5L871.4 697.9Z" fill="#EC008C" stroke="#000" stroke-width="1.1"/>
<path d="M882.7 720.5L894.3 732.1L882.7 743.7L871.1 732.1Z" fill="#EC008C" stroke="#000" stroke-width="1.1"/>
<path d="M882.2 755.7L893.8 767.3L882.2 778.9L870.6 767.3Z" fill="#EC008C" stroke="#000" stroke-width="1.1"/>
<path d="M881.6 791.0L893.2 802.6L881.6 814.2L870.0 802.6Z" fill="#EC008C" stroke="#000" stroke-width="1.1"/>
<path d="M880.6 826.2L892.2 837.8L880.6 849.4L869.0 837.8Z" fill="#EC008C" stroke="#000" stroke-width="1.1"/>
<path d="M878.4 861.1L890.0 872.7L878.4 884.3L866.8 872.7Z" fill="#EC008C" stroke="#000" stroke-width="1.1"/>
<path d="M873.9 895.4L885.5 907.0L873.9 918.6L862.3 907.0Z" fill="#EC008C" stroke="#000" stroke-width="1.1"/>
<path d="M865.7 927.6L877.3 939.2L865.7 950.8L854.1 939.2Z" fill="#EC008C" stroke="#000" stroke-width="1.1"/>
<path d="M852.0 948.4L863.6 960.0L852.0 971.6L840.4 960.0Z" fill="#EC008C" stroke="#000" stroke-width="1.1"/>
<path d="M847.0 952.2L858.6 963.8L847.0 975.4L835.4 963.8Z" fill="#EC008C" stroke="#000" stroke-width="1.1"/>
<path d="M842.5 954.9L854.1 966.5L842.5 978.1L830.9 966.5Z" fill="#EC008C" stroke="#000" stroke-width="1.1"/>
<path d="M838.4 956.8L850.0 968.4L838.4 980.0L826.8 968.4Z" fill="#EC008C" stroke="#000" stroke-width="1.1"/>
<path d="M834.6 958.4L846.2 970.0L834.6 981.6L823.0 970.0Z" fill="#EC008C" stroke="#000" stroke-width="1.1"/>
<path d="M831.0 959.6L842.6 971.2L831.0 982.8L819.4 971.2Z" fill="#EC008C" stroke="#000" stroke-width="1.1"/>
<path d="M827.5 960.7L839.1 972.3L827.5 983.9L815.9 972.3Z" fill="#EC008C" stroke="#000" stroke-width="1.1"/>
<path d="M824.2 961.6L835.8 973.2L824.2 984.8L812.6 973.2Z" fill="#EC008C" stroke="#000" stroke-width="1.1"/>
<path d="M821.0 962.4L832.6 974.0L821.0 985.6L809.4 974.0Z" fill="#EC008C" stroke="#000" stroke-width="1.1"/>
<path d="M817.8 963.0L829.4 974.6L817.8 986.2L806.2 974.6Z" fill="#EC008C" stroke="#000" stroke-width="1.1"/>
<path d="M814.7 963.7L826.3 975.3L814.7 986.9L803.1 975.3Z" fill="#EC008C" stroke="#000" stroke-width="1.1"/>
<path d="M811.7 964.2L823.3 975.8L811.7 987.4L800.1 975.8Z" fill="#EC008C" stroke="#000" stroke-width="1.1"/>
<path d="M808.6 964.7L820.2 976.3L808.6 987.9L797.0 976.3Z" fill="#EC008C" stroke="#000" stroke-width="1.1"/>
<path d="M805.7 965.2L817.3 976.8L805.7 988.4L794.1 976.8Z" fill="#EC008C" stroke="#000" stroke-width="1.1"/>
<path d="M802.7 965.6L814.3 977.2L802.7 988.8L791.1 977.2Z" fill="#EC008C" stroke="#000" stroke-width="1.1"/>
<path d="M799.8 966.0L811.4 977.6L799.8 989.2L788.2 977.6Z" fill="#EC008C" stroke="#000" stroke-width="1.1"/>
<path d="M796.8 966.4L808.4 978.0L796.8 989.6L785.2 978.0Z" fill="#EC008C" stroke="#000" stroke-width="1.1"/>
<path d="M793.9 966.7L805.5 978.3L793.9 989.9L782.3 978.3Z" fill="#EC008C" stroke="#000" stroke-width="1.1"/>
<path d="M791.0 967.0L802.6 978.6L791.0 990.2L779.4 978.6Z" fill="#EC008C" stroke="#000" stroke-width="1.1"/>
<path d="M788.2 967.3L799.8 978.9L788.2 990.5L776.6 978.9Z" fill="#EC008C" stroke="#000" stroke-width="1.1"/>
<path d="M785.3 967.6L796.9 979.2L785.3 990.8L773.7 979.2Z" fill="#EC008C" stroke="#000" stroke-width="1.1"/>
<path d="M782.4 967.8L794.0 979.4L782.4 991.0L770.8 979.4Z" fill="#EC008C" stroke="#000" stroke-width="1.1"/>
<path d="M779.6 968.1L791.2 979.7L779.6 991.3L768.0 979.7Z" fill="#EC008C" stroke="#000" stroke-width="1.1"/>
<path d="M751.1 973.1L762.7 984.7L751.1 996.3L739.5 984.7Z" fill="#EC008C" stroke="#000" stroke-width="1.1"/>
<path d="M724.5 974.6L736.1 986.2L724.5 997.8L712.9 986.2Z" fill="#EC008C" stroke="#000" stroke-width="1.1"/>
<path d="M697.8 973.6L709.4 985.2L697.8 996.8L686.2 985.2Z" fill="#EC008C" stroke="#000" stroke-width="1.1"/>
<path d="M671.2 975.1L682.8 986.7L671.2 998.3L659.6 986.7Z" fill="#EC008C" stroke="#000" stroke-width="1.1"/>
<path d="M644.6 974.1L656.2 985.7L644.6 997.3L633.0 985.7Z" fill="#EC008C" stroke="#000" stroke-width="1.1"/>
<path d="M618.0 973.6L629.6 985.2L618.0 996.8L606.4 985.2Z" fill="#EC008C" stroke="#000" stroke-width="1.1"/>
<path d="M591.3 974.6L602.9 986.2L591.3 997.8L579.7 986.2Z" fill="#EC008C" stroke="#000" stroke-width="1.1"/>
<path d="M564.7 974.1L576.3 985.7L564.7 997.3L553.1 985.7Z" fill="#EC008C" stroke="#000" stroke-width="1.1"/>
<path d="M538.1 973.1L549.7 984.7L538.1 996.3L526.5 984.7Z" fill="#EC008C" stroke="#000" stroke-width="1.1"/>
<path d="M511.5 974.1L523.1 985.7L511.5 997.3L499.9 985.7Z" fill="#EC008C" stroke="#000" stroke-width="1.1"/>
<path d="M484.8 975.7L496.4 987.3L484.8 998.9L473.2 987.3Z" fill="#EC008C" stroke="#000" stroke-width="1.1"/>
<path d="M458.2 977.2L469.8 988.8L458.2 1000.4L446.6 988.8Z" fill="#EC008C" stroke="#000" stroke-width="1.1"/>
<path d="M431.6 973.6L443.2 985.2L431.6 996.8L420.0 985.2Z" fill="#EC008C" stroke="#000" stroke-width="1.1"/>
<path d="M405.0 975.1L416.6 986.7L405.0 998.3L393.4 986.7Z" fill="#EC008C" stroke="#000" stroke-width="1.1"/>
<path d="M378.3 974.1L389.9 985.7L378.3 997.3L366.7 985.7Z" fill="#EC008C" stroke="#000" stroke-width="1.1"/>
<path d="M351.7 973.6L363.3 985.2L351.7 996.8L340.1 985.2Z" fill="#EC008C" stroke="#000" stroke-width="1.1"/>
<path d="M431.6 982.8L443.2 994.4L431.6 1006.0L420.0 994.4Z" fill="#EC008C" stroke="#000" stroke-width="1.1"/>
<path d="M458.2 977.2L469.8 988.8L458.2 1000.4L446.6 988.8Z" fill="#EC008C" stroke="#000" stroke-width="1.1"/>
<path d="M778.1 968.2L789.7 979.8L778.1 991.4L766.5 979.8Z" fill="#EC008C" stroke="#000" stroke-width="1.1"/>
<path d="M781.0 968.0L792.6 979.6L781.0 991.2L769.4 979.6Z" fill="#EC008C" stroke="#000" stroke-width="1.1"/>
<path d="M783.9 967.7L795.5 979.3L783.9 990.9L772.3 979.3Z" fill="#EC008C" stroke="#000" stroke-width="1.1"/>
<path d="M786.7 967.4L798.3 979.0L786.7 990.6L775.1 979.0Z" fill="#EC008C" stroke="#000" stroke-width="1.1"/>
<path d="M789.6 967.2L801.2 978.8L789.6 990.4L778.0 978.8Z" fill="#EC008C" stroke="#000" stroke-width="1.1"/>
<path d="M792.5 966.9L804.1 978.5L792.5 990.1L780.9 978.5Z" fill="#EC008C" stroke="#000" stroke-width="1.1"/>
<path d="M795.4 966.5L807.0 978.1L795.4 989.7L783.8 978.1Z" fill="#EC008C" stroke="#000" stroke-width="1.1"/>
<path d="M798.3 966.2L809.9 977.8L798.3 989.4L786.7 977.8Z" fill="#EC008C" stroke="#000" stroke-width="1.1"/>
<path d="M801.2 965.8L812.8 977.4L801.2 989.0L789.6 977.4Z" fill="#EC008C" stroke="#000" stroke-width="1.1"/>
<path d="M804.2 965.4L815.8 977.0L804.2 988.6L792.6 977.0Z" fill="#EC008C" stroke="#000" stroke-width="1.1"/>
<path d="M807.1 965.0L818.7 976.6L807.1 988.2L795.5 976.6Z" fill="#EC008C" stroke="#000" stroke-width="1.1"/>
<path d="M810.2 964.5L821.8 976.1L810.2 987.7L798.6 976.1Z" fill="#EC008C" stroke="#000" stroke-width="1.1"/>
<path d="M813.2 963.9L824.8 975.5L813.2 987.1L801.6 975.5Z" fill="#EC008C" stroke="#000" stroke-width="1.1"/>
<path d="M816.3 963.4L827.9 975.0L816.3 986.6L804.7 975.0Z" fill="#EC008C" stroke="#000" stroke-width="1.1"/>
<path d="M819.4 962.7L831.0 974.3L819.4 985.9L807.8 974.3Z" fill="#EC008C" stroke="#000" stroke-width="1.1"/>
<path d="M822.6 962.0L834.2 973.6L822.6 985.2L811.0 973.6Z" fill="#EC008C" stroke="#000" stroke-width="1.1"/>
<path d="M825.8 961.1L837.4 972.7L825.8 984.3L814.2 972.7Z" fill="#EC008C" stroke="#000" stroke-width="1.1"/>
<path d="M829.2 960.2L840.8 971.8L829.2 983.4L817.6 971.8Z" fill="#EC008C" stroke="#000" stroke-width="1.1"/>
<path d="M832.7 959.0L844.3 970.6L832.7 982.2L821.1 970.6Z" fill="#EC008C" stroke="#000" stroke-width="1.1"/>
<path d="M836.4 957.7L848.0 969.3L836.4 980.9L824.8 969.3Z" fill="#EC008C" stroke="#000" stroke-width="1.1"/>
<path d="M840.4 955.9L852.0 967.5L840.4 979.1L828.8 967.5Z" fill="#EC008C" stroke="#000" stroke-width="1.1"/>
<path d="M844.7 953.7L856.3 965.3L844.7 976.9L833.1 965.3Z" fill="#EC008C" stroke="#000" stroke-width="1.1"/>
<path d="M849.4 950.5L861.0 962.1L849.4 973.7L837.8 962.1Z" fill="#EC008C" stroke="#000" stroke-width="1.1"/>
<path d="M859.0 940.5L870.6 952.1L859.0 963.7L847.4 952.1Z" fill="#EC008C" stroke="#000" stroke-width="1.1"/>
<path d="M870.5 912.0L882.1 923.6L870.5 935.2L858.9 923.6Z" fill="#EC008C" stroke="#000" stroke-width="1.1"/>
<path d="M876.4 878.3L888.0 889.9L876.4 901.5L864.8 889.9Z" fill="#EC008C" stroke="#000" stroke-width="1.1"/>
<path d="M879.7 843.7L891.3 855.3L879.7 866.9L868.1 855.3Z" fill="#EC008C" stroke="#000" stroke-width="1.1"/>
<path d="M881.2 808.6L892.8 820.2L881.2 831.8L869.6 820.2Z" fill="#EC008C" stroke="#000" stroke-width="1.1"/>
<path d="M881.9 773.5L893.5 785.1L881.9 796.7L870.3 785.1Z" fill="#EC008C" stroke="#000" stroke-width="1.1"/>
<path d="M882.5 738.8L894.1 750.4L882.5 762.0L870.9 750.4Z" fill="#EC008C" stroke="#000" stroke-width="1.1"/>
<path d="M882.9 703.1L894.5 714.7L882.9 726.3L871.3 714.7Z" fill="#EC008C" stroke="#000" stroke-width="1.1"/>
<path d="M883.2 668.2L894.8 679.8L883.2 691.4L871.6 679.8Z" fill="#EC008C" stroke="#000" stroke-width="1.1"/>
<path d="M883.5 632.6L895.1 644.2L883.5 655.8L871.9 644.2Z" fill="#EC008C" stroke="#000" stroke-width="1.1"/>
<path d="M883.8 598.2L895.4 609.8L883.8 621.4L872.2 609.8Z" fill="#EC008C" stroke="#000" stroke-width="1.1"/>
<path d="M884.1 563.5L895.7 575.1L884.1 586.7L872.5 575.1Z" fill="#EC008C" stroke="#000" stroke-width="1.1"/>
<path d="M884.3 528.4L895.9 540.0L884.3 551.6L872.7 540.0Z" fill="#EC008C" stroke="#000" stroke-width="1.1"/>
<path d="M884.6 493.8L896.2 505.4L884.6 517.0L873.0 505.4Z" fill="#EC008C" stroke="#000" stroke-width="1.1"/>
<path d="M884.9 458.0L896.5 469.6L884.9 481.2L873.3 469.6Z" fill="#EC008C" stroke="#000" stroke-width="1.1"/>
<path d="M885.2 423.8L896.8 435.4L885.2 447.0L873.6 435.4Z" fill="#EC008C" stroke="#000" stroke-width="1.1"/>
<path d="M885.5 388.0L897.1 399.6L885.5 411.2L873.9 399.6Z" fill="#EC008C" stroke="#000" stroke-width="1.1"/>
<path d="M885.9 353.4L897.5 365.0L885.9 376.6L874.3 365.0Z" fill="#EC008C" stroke="#000" stroke-width="1.1"/>
<path d="M886.5 318.8L898.1 330.4L886.5 342.0L874.9 330.4Z" fill="#EC008C" stroke="#000" stroke-width="1.1"/>
<path d="M887.2 283.9L898.8 295.5L887.2 307.1L875.6 295.5Z" fill="#EC008C" stroke="#000" stroke-width="1.1"/>
<path d="M888.7 248.9L900.3 260.5L888.7 272.1L877.1 260.5Z" fill="#EC008C" stroke="#000" stroke-width="1.1"/>
<path d="M892.0 214.4L903.6 226.0L892.0 237.6L880.4 226.0Z" fill="#EC008C" stroke="#000" stroke-width="1.1"/>
<path d="M897.9 180.8L909.5 192.4L897.9 204.0L886.3 192.4Z" fill="#EC008C" stroke="#000" stroke-width="1.1"/>
<path d="M909.3 152.3L920.9 163.9L909.3 175.5L897.7 163.9Z" fill="#EC008C" stroke="#000" stroke-width="1.1"/>
<path d="M923.8 138.9L935.4 150.5L923.8 162.1L912.2 150.5Z" fill="#EC008C" stroke="#000" stroke-width="1.1"/>
<path d="M935.2 133.7L946.8 145.3L935.2 156.9L923.6 145.3Z" fill="#EC008C" stroke="#000" stroke-width="1.1"/>
<path d="M945.0 130.8L956.6 142.4L945.0 154.0L933.4 142.4Z" fill="#EC008C" stroke="#000" stroke-width="1.1"/>
<path d="M954.0 128.9L965.6 140.5L954.0 152.1L942.4 140.5Z" fill="#EC008C" stroke="#000" stroke-width="1.1"/>
<path d="M962.6 127.4L974.2 139.0L962.6 150.6L951.0 139.0Z" fill="#EC008C" stroke="#000" stroke-width="1.1"/>
<path d="M971.0 126.3L982.6 137.9L971.0 149.5L959.4 137.9Z" fill="#EC008C" stroke="#000" stroke-width="1.1"/>
<path d="M979.3 125.4L990.9 137.0L979.3 148.6L967.7 137.0Z" fill="#EC008C" stroke="#000" stroke-width="1.1"/>
<path d="M987.5 124.6L999.1 136.2L987.5 147.8L975.9 136.2Z" fill="#EC008C" stroke="#000" stroke-width="1.1"/>
</g><g>
<path d="M1416.7 133.0L1428.4 152.4L1405.0 152.4Z" fill="rgba(222,211,37,0.71)" stroke="#3a3a20" stroke-width="1.0"/>
<path d="M1390.1 133.0L1401.7 152.4L1378.4 152.4Z" fill="rgba(222,211,37,0.71)" stroke="#3a3a20" stroke-width="1.0"/>
<path d="M1363.5 133.0L1375.1 152.4L1351.8 152.4Z" fill="rgba(222,211,37,0.71)" stroke="#3a3a20" stroke-width="1.0"/>
<path d="M1336.8 133.0L1348.5 152.4L1325.2 152.4Z" fill="rgba(222,211,37,0.71)" stroke="#3a3a20" stroke-width="1.0"/>
<path d="M1310.2 133.0L1321.9 152.4L1298.5 152.4Z" fill="rgba(222,211,37,0.71)" stroke="#3a3a20" stroke-width="1.0"/>
<path d="M1283.6 133.0L1295.2 152.4L1271.9 152.4Z" fill="rgba(222,211,37,0.71)" stroke="#3a3a20" stroke-width="1.0"/>
<path d="M1257.0 133.0L1268.6 152.4L1245.3 152.4Z" fill="rgba(222,211,37,0.71)" stroke="#3a3a20" stroke-width="1.0"/>
<path d="M1230.3 133.0L1242.0 152.4L1218.7 152.4Z" fill="rgba(222,211,37,0.71)" stroke="#3a3a20" stroke-width="1.0"/>
<path d="M1203.7 133.0L1215.4 152.4L1192.0 152.4Z" fill="rgba(222,211,37,0.71)" stroke="#3a3a20" stroke-width="1.0"/>
<path d="M1177.1 133.0L1188.7 152.4L1165.4 152.4Z" fill="rgba(222,211,37,0.71)" stroke="#3a3a20" stroke-width="1.0"/>
<path d="M1150.5 133.0L1162.1 152.4L1138.8 152.4Z" fill="rgba(222,211,37,0.71)" stroke="#3a3a20" stroke-width="1.0"/>
<path d="M1123.8 133.0L1135.5 152.4L1112.2 152.4Z" fill="rgba(222,211,37,0.71)" stroke="#3a3a20" stroke-width="1.0"/>
<path d="M1097.2 133.0L1108.9 152.4L1085.5 152.4Z" fill="rgba(222,211,37,0.71)" stroke="#3a3a20" stroke-width="1.0"/>
<path d="M1070.6 133.0L1082.2 152.4L1058.9 152.4Z" fill="rgba(222,211,37,0.71)" stroke="#3a3a20" stroke-width="1.0"/>
<path d="M1044.0 133.0L1055.6 152.4L1032.3 152.4Z" fill="rgba(222,211,37,0.71)" stroke="#3a3a20" stroke-width="1.0"/>
<path d="M1017.3 133.0L1029.0 152.4L1005.7 152.4Z" fill="rgba(222,211,37,0.71)" stroke="#3a3a20" stroke-width="1.0"/>
<path d="M983.8 138.0L995.4 157.4L972.1 157.4Z" fill="rgba(222,211,37,0.71)" stroke="#3a3a20" stroke-width="1.0"/>
<path d="M975.6 138.6L987.3 158.0L964.0 158.0Z" fill="rgba(222,211,37,0.71)" stroke="#3a3a20" stroke-width="1.0"/>
<path d="M967.4 139.4L979.1 158.8L955.8 158.8Z" fill="rgba(222,211,37,0.71)" stroke="#3a3a20" stroke-width="1.0"/>
<path d="M959.2 140.3L970.8 159.7L947.5 159.7Z" fill="rgba(222,211,37,0.71)" stroke="#3a3a20" stroke-width="1.0"/>
<path d="M950.7 141.5L962.3 160.9L939.0 160.9Z" fill="rgba(222,211,37,0.71)" stroke="#3a3a20" stroke-width="1.0"/>
<path d="M942.0 143.1L953.6 162.5L930.3 162.5Z" fill="rgba(222,211,37,0.71)" stroke="#3a3a20" stroke-width="1.0"/>
<path d="M932.6 145.5L944.3 164.9L921.0 164.9Z" fill="rgba(222,211,37,0.71)" stroke="#3a3a20" stroke-width="1.0"/>
<path d="M921.8 149.8L933.4 169.2L910.1 169.2Z" fill="rgba(222,211,37,0.71)" stroke="#3a3a20" stroke-width="1.0"/>
<path d="M907.6 163.7L919.2 183.1L895.9 183.1Z" fill="rgba(222,211,37,0.71)" stroke="#3a3a20" stroke-width="1.0"/>
<path d="M898.7 195.0L910.3 214.4L887.0 214.4Z" fill="rgba(222,211,37,0.71)" stroke="#3a3a20" stroke-width="1.0"/>
<path d="M894.8 229.3L906.4 248.7L883.1 248.7Z" fill="rgba(222,211,37,0.71)" stroke="#3a3a20" stroke-width="1.0"/>
<path d="M892.4 264.1L904.1 283.5L880.8 283.5Z" fill="rgba(222,211,37,0.71)" stroke="#3a3a20" stroke-width="1.0"/>
<path d="M890.8 299.1L902.4 318.5L879.1 318.5Z" fill="rgba(222,211,37,0.71)" stroke="#3a3a20" stroke-width="1.0"/>
<path d="M889.5 334.0L901.1 353.4L877.8 353.4Z" fill="rgba(222,211,37,0.71)" stroke="#3a3a20" stroke-width="1.0"/>
<path d="M888.4 368.8L900.0 388.2L876.7 388.2Z" fill="rgba(222,211,37,0.71)" stroke="#3a3a20" stroke-width="1.0"/>
<path d="M887.4 403.8L899.1 423.2L875.8 423.2Z" fill="rgba(222,211,37,0.71)" stroke="#3a3a20" stroke-width="1.0"/>
<path d="M886.6 438.9L898.2 458.3L874.9 458.3Z" fill="rgba(222,211,37,0.71)" stroke="#3a3a20" stroke-width="1.0"/>
<path d="M885.8 473.9L897.4 493.3L874.1 493.3Z" fill="rgba(222,211,37,0.71)" stroke="#3a3a20" stroke-width="1.0"/>
<path d="M885.0 508.7L896.7 528.1L873.4 528.1Z" fill="rgba(222,211,37,0.71)" stroke="#3a3a20" stroke-width="1.0"/>
<path d="M884.3 543.5L896.0 562.9L872.7 562.9Z" fill="rgba(222,211,37,0.71)" stroke="#3a3a20" stroke-width="1.0"/>
<path d="M883.6 578.4L895.2 597.8L871.9 597.8Z" fill="rgba(222,211,37,0.71)" stroke="#3a3a20" stroke-width="1.0"/>
<path d="M882.8 613.6L894.5 633.0L871.2 633.0Z" fill="rgba(222,211,37,0.71)" stroke="#3a3a20" stroke-width="1.0"/>
<path d="M882.0 648.6L893.7 668.0L870.4 668.0Z" fill="rgba(222,211,37,0.71)" stroke="#3a3a20" stroke-width="1.0"/>
<path d="M881.2 683.4L892.8 702.8L869.5 702.8Z" fill="rgba(222,211,37,0.71)" stroke="#3a3a20" stroke-width="1.0"/>
<path d="M880.2 718.5L891.9 737.9L868.6 737.9Z" fill="rgba(222,211,37,0.71)" stroke="#3a3a20" stroke-width="1.0"/>
<path d="M879.2 753.6L890.8 773.0L867.5 773.0Z" fill="rgba(222,211,37,0.71)" stroke="#3a3a20" stroke-width="1.0"/>
<path d="M877.9 788.5L889.5 807.9L866.2 807.9Z" fill="rgba(222,211,37,0.71)" stroke="#3a3a20" stroke-width="1.0"/>
<path d="M876.3 823.5L887.9 842.9L864.6 842.9Z" fill="rgba(222,211,37,0.71)" stroke="#3a3a20" stroke-width="1.0"/>
<path d="M874.0 858.3L885.7 877.7L862.4 877.7Z" fill="rgba(222,211,37,0.71)" stroke="#3a3a20" stroke-width="1.0"/>
<path d="M870.4 892.8L882.1 912.2L858.8 912.2Z" fill="rgba(222,211,37,0.71)" stroke="#3a3a20" stroke-width="1.0"/>
<path d="M862.4 925.0L874.1 944.4L850.8 944.4Z" fill="rgba(222,211,37,0.71)" stroke="#3a3a20" stroke-width="1.0"/>
<path d="M850.8 939.3L862.4 958.7L839.1 958.7Z" fill="rgba(222,211,37,0.71)" stroke="#3a3a20" stroke-width="1.0"/>
<path d="M846.3 942.0L857.9 961.4L834.6 961.4Z" fill="rgba(222,211,37,0.71)" stroke="#3a3a20" stroke-width="1.0"/>
<path d="M842.2 943.8L853.9 963.2L830.6 963.2Z" fill="rgba(222,211,37,0.71)" stroke="#3a3a20" stroke-width="1.0"/>
<path d="M838.5 945.2L850.2 964.6L826.9 964.6Z" fill="rgba(222,211,37,0.71)" stroke="#3a3a20" stroke-width="1.0"/>
<path d="M835.1 946.3L846.7 965.7L823.4 965.7Z" fill="rgba(222,211,37,0.71)" stroke="#3a3a20" stroke-width="1.0"/>
<path d="M831.7 947.2L843.4 966.6L820.1 966.6Z" fill="rgba(222,211,37,0.71)" stroke="#3a3a20" stroke-width="1.0"/>
<path d="M828.5 947.9L840.2 967.3L816.9 967.3Z" fill="rgba(222,211,37,0.71)" stroke="#3a3a20" stroke-width="1.0"/>
<path d="M825.4 948.6L837.0 968.0L813.7 968.0Z" fill="rgba(222,211,37,0.71)" stroke="#3a3a20" stroke-width="1.0"/>
<path d="M822.3 949.2L833.9 968.6L810.6 968.6Z" fill="rgba(222,211,37,0.71)" stroke="#3a3a20" stroke-width="1.0"/>
<path d="M819.3 949.7L830.9 969.1L807.6 969.1Z" fill="rgba(222,211,37,0.71)" stroke="#3a3a20" stroke-width="1.0"/>
<path d="M816.3 950.2L827.9 969.6L804.6 969.6Z" fill="rgba(222,211,37,0.71)" stroke="#3a3a20" stroke-width="1.0"/>
<path d="M813.3 950.6L825.0 970.0L801.7 970.0Z" fill="rgba(222,211,37,0.71)" stroke="#3a3a20" stroke-width="1.0"/>
<path d="M810.4 951.0L822.0 970.4L798.7 970.4Z" fill="rgba(222,211,37,0.71)" stroke="#3a3a20" stroke-width="1.0"/>
<path d="M807.4 951.4L819.1 970.8L795.8 970.8Z" fill="rgba(222,211,37,0.71)" stroke="#3a3a20" stroke-width="1.0"/>
<path d="M804.5 951.7L816.2 971.1L792.9 971.1Z" fill="rgba(222,211,37,0.71)" stroke="#3a3a20" stroke-width="1.0"/>
<path d="M801.7 952.0L813.3 971.4L790.0 971.4Z" fill="rgba(222,211,37,0.71)" stroke="#3a3a20" stroke-width="1.0"/>
<path d="M798.8 952.3L810.4 971.7L787.1 971.7Z" fill="rgba(222,211,37,0.71)" stroke="#3a3a20" stroke-width="1.0"/>
<path d="M795.9 952.6L807.6 972.0L784.3 972.0Z" fill="rgba(222,211,37,0.71)" stroke="#3a3a20" stroke-width="1.0"/>
<path d="M793.0 952.8L804.7 972.2L781.4 972.2Z" fill="rgba(222,211,37,0.71)" stroke="#3a3a20" stroke-width="1.0"/>
<path d="M790.2 953.0L801.8 972.4L778.5 972.4Z" fill="rgba(222,211,37,0.71)" stroke="#3a3a20" stroke-width="1.0"/>
<path d="M787.3 953.3L799.0 972.7L775.7 972.7Z" fill="rgba(222,211,37,0.71)" stroke="#3a3a20" stroke-width="1.0"/>
<path d="M784.5 953.5L796.2 972.9L772.9 972.9Z" fill="rgba(222,211,37,0.71)" stroke="#3a3a20" stroke-width="1.0"/>
<path d="M781.7 953.7L793.3 973.1L770.0 973.1Z" fill="rgba(222,211,37,0.71)" stroke="#3a3a20" stroke-width="1.0"/>
<path d="M778.8 953.8L790.5 973.2L767.2 973.2Z" fill="rgba(222,211,37,0.71)" stroke="#3a3a20" stroke-width="1.0"/>
<path d="M751.1 958.6L762.7 978.0L739.4 978.0Z" fill="rgba(222,211,37,0.71)" stroke="#3a3a20" stroke-width="1.0"/>
<path d="M724.5 958.6L736.1 978.0L712.8 978.0Z" fill="rgba(222,211,37,0.71)" stroke="#3a3a20" stroke-width="1.0"/>
<path d="M697.8 958.6L709.5 978.0L686.2 978.0Z" fill="rgba(222,211,37,0.71)" stroke="#3a3a20" stroke-width="1.0"/>
<path d="M671.2 958.6L682.9 978.0L659.6 978.0Z" fill="rgba(222,211,37,0.71)" stroke="#3a3a20" stroke-width="1.0"/>
<path d="M644.6 958.6L656.2 978.0L632.9 978.0Z" fill="rgba(222,211,37,0.71)" stroke="#3a3a20" stroke-width="1.0"/>
<path d="M618.0 958.6L629.6 978.0L606.3 978.0Z" fill="rgba(222,211,37,0.71)" stroke="#3a3a20" stroke-width="1.0"/>
<path d="M591.3 958.6L603.0 978.0L579.7 978.0Z" fill="rgba(222,211,37,0.71)" stroke="#3a3a20" stroke-width="1.0"/>
<path d="M564.7 958.6L576.4 978.0L553.1 978.0Z" fill="rgba(222,211,37,0.71)" stroke="#3a3a20" stroke-width="1.0"/>
<path d="M538.1 958.6L549.7 978.0L526.4 978.0Z" fill="rgba(222,211,37,0.71)" stroke="#3a3a20" stroke-width="1.0"/>
<path d="M511.5 958.6L523.1 978.0L499.8 978.0Z" fill="rgba(222,211,37,0.71)" stroke="#3a3a20" stroke-width="1.0"/>
<path d="M484.8 958.6L496.5 978.0L473.2 978.0Z" fill="rgba(222,211,37,0.71)" stroke="#3a3a20" stroke-width="1.0"/>
<path d="M458.2 958.6L469.9 978.0L446.6 978.0Z" fill="rgba(222,211,37,0.71)" stroke="#3a3a20" stroke-width="1.0"/>
<path d="M431.6 958.6L443.2 978.0L419.9 978.0Z" fill="rgba(222,211,37,0.71)" stroke="#3a3a20" stroke-width="1.0"/>
<path d="M405.0 958.6L416.6 978.0L393.3 978.0Z" fill="rgba(222,211,37,0.71)" stroke="#3a3a20" stroke-width="1.0"/>
<path d="M378.3 958.6L390.0 978.0L366.7 978.0Z" fill="rgba(222,211,37,0.71)" stroke="#3a3a20" stroke-width="1.0"/>
<path d="M351.7 958.6L363.4 978.0L340.1 978.0Z" fill="rgba(222,211,37,0.71)" stroke="#3a3a20" stroke-width="1.0"/>
<path d="M780.3 953.7L791.9 973.1L768.6 973.1Z" fill="rgba(222,211,37,0.71)" stroke="#3a3a20" stroke-width="1.0"/>
<path d="M783.1 953.6L794.7 973.0L771.4 973.0Z" fill="rgba(222,211,37,0.71)" stroke="#3a3a20" stroke-width="1.0"/>
<path d="M785.9 953.4L797.6 972.8L774.3 972.8Z" fill="rgba(222,211,37,0.71)" stroke="#3a3a20" stroke-width="1.0"/>
<path d="M788.8 953.1L800.4 972.5L777.1 972.5Z" fill="rgba(222,211,37,0.71)" stroke="#3a3a20" stroke-width="1.0"/>
<path d="M791.6 952.9L803.3 972.3L780.0 972.3Z" fill="rgba(222,211,37,0.71)" stroke="#3a3a20" stroke-width="1.0"/>
<path d="M794.5 952.7L806.1 972.1L782.8 972.1Z" fill="rgba(222,211,37,0.71)" stroke="#3a3a20" stroke-width="1.0"/>
<path d="M797.3 952.4L809.0 971.8L785.7 971.8Z" fill="rgba(222,211,37,0.71)" stroke="#3a3a20" stroke-width="1.0"/>
<path d="M800.2 952.2L811.9 971.6L788.6 971.6Z" fill="rgba(222,211,37,0.71)" stroke="#3a3a20" stroke-width="1.0"/>
<path d="M803.1 951.9L814.8 971.3L791.5 971.3Z" fill="rgba(222,211,37,0.71)" stroke="#3a3a20" stroke-width="1.0"/>
<path d="M806.0 951.5L817.6 970.9L794.3 970.9Z" fill="rgba(222,211,37,0.71)" stroke="#3a3a20" stroke-width="1.0"/>
<path d="M808.9 951.2L820.6 970.6L797.3 970.6Z" fill="rgba(222,211,37,0.71)" stroke="#3a3a20" stroke-width="1.0"/>
<path d="M811.8 950.8L823.5 970.2L800.2 970.2Z" fill="rgba(222,211,37,0.71)" stroke="#3a3a20" stroke-width="1.0"/>
<path d="M814.8 950.4L826.4 969.8L803.1 969.8Z" fill="rgba(222,211,37,0.71)" stroke="#3a3a20" stroke-width="1.0"/>
<path d="M817.8 950.0L829.4 969.4L806.1 969.4Z" fill="rgba(222,211,37,0.71)" stroke="#3a3a20" stroke-width="1.0"/>
<path d="M820.8 949.5L832.4 968.9L809.1 968.9Z" fill="rgba(222,211,37,0.71)" stroke="#3a3a20" stroke-width="1.0"/>
<path d="M823.8 948.9L835.5 968.3L812.2 968.3Z" fill="rgba(222,211,37,0.71)" stroke="#3a3a20" stroke-width="1.0"/>
<path d="M826.9 948.3L838.6 967.7L815.3 967.7Z" fill="rgba(222,211,37,0.71)" stroke="#3a3a20" stroke-width="1.0"/>
<path d="M830.1 947.6L841.8 967.0L818.5 967.0Z" fill="rgba(222,211,37,0.71)" stroke="#3a3a20" stroke-width="1.0"/>
<path d="M833.4 946.7L845.0 966.1L821.7 966.1Z" fill="rgba(222,211,37,0.71)" stroke="#3a3a20" stroke-width="1.0"/>
<path d="M836.8 945.7L848.4 965.1L825.1 965.1Z" fill="rgba(222,211,37,0.71)" stroke="#3a3a20" stroke-width="1.0"/>
<path d="M840.4 944.5L852.0 963.9L828.7 963.9Z" fill="rgba(222,211,37,0.71)" stroke="#3a3a20" stroke-width="1.0"/>
<path d="M844.2 942.9L855.8 962.3L832.5 962.3Z" fill="rgba(222,211,37,0.71)" stroke="#3a3a20" stroke-width="1.0"/>
<path d="M848.4 940.8L860.1 960.2L836.8 960.2Z" fill="rgba(222,211,37,0.71)" stroke="#3a3a20" stroke-width="1.0"/>
<path d="M855.1 935.7L866.8 955.1L843.5 955.1Z" fill="rgba(222,211,37,0.71)" stroke="#3a3a20" stroke-width="1.0"/>
<path d="M867.4 909.6L879.0 929.0L855.7 929.0Z" fill="rgba(222,211,37,0.71)" stroke="#3a3a20" stroke-width="1.0"/>
<path d="M872.5 875.6L884.1 895.0L860.8 895.0Z" fill="rgba(222,211,37,0.71)" stroke="#3a3a20" stroke-width="1.0"/>
<path d="M875.3 840.9L886.9 860.3L863.6 860.3Z" fill="rgba(222,211,37,0.71)" stroke="#3a3a20" stroke-width="1.0"/>
<path d="M877.1 805.9L888.8 825.3L865.5 825.3Z" fill="rgba(222,211,37,0.71)" stroke="#3a3a20" stroke-width="1.0"/>
<path d="M878.6 771.1L890.2 790.5L866.9 790.5Z" fill="rgba(222,211,37,0.71)" stroke="#3a3a20" stroke-width="1.0"/>
<path d="M879.7 736.2L891.4 755.6L868.1 755.6Z" fill="rgba(222,211,37,0.71)" stroke="#3a3a20" stroke-width="1.0"/>
<path d="M880.7 701.1L892.4 720.5L869.1 720.5Z" fill="rgba(222,211,37,0.71)" stroke="#3a3a20" stroke-width="1.0"/>
<path d="M881.6 666.2L893.3 685.6L870.0 685.6Z" fill="rgba(222,211,37,0.71)" stroke="#3a3a20" stroke-width="1.0"/>
<path d="M882.4 630.9L894.1 650.3L870.8 650.3Z" fill="rgba(222,211,37,0.71)" stroke="#3a3a20" stroke-width="1.0"/>
<path d="M883.2 595.9L894.8 615.3L871.5 615.3Z" fill="rgba(222,211,37,0.71)" stroke="#3a3a20" stroke-width="1.0"/>
<path d="M883.9 561.3L895.6 580.7L872.3 580.7Z" fill="rgba(222,211,37,0.71)" stroke="#3a3a20" stroke-width="1.0"/>
<path d="M884.7 526.0L896.3 545.4L873.0 545.4Z" fill="rgba(222,211,37,0.71)" stroke="#3a3a20" stroke-width="1.0"/>
<path d="M885.4 491.1L897.1 510.5L873.8 510.5Z" fill="rgba(222,211,37,0.71)" stroke="#3a3a20" stroke-width="1.0"/>
<path d="M886.2 456.1L897.8 475.5L874.5 475.5Z" fill="rgba(222,211,37,0.71)" stroke="#3a3a20" stroke-width="1.0"/>
<path d="M887.0 421.4L898.6 440.8L875.3 440.8Z" fill="rgba(222,211,37,0.71)" stroke="#3a3a20" stroke-width="1.0"/>
<path d="M887.9 386.4L899.5 405.8L876.2 405.8Z" fill="rgba(222,211,37,0.71)" stroke="#3a3a20" stroke-width="1.0"/>
<path d="M888.9 351.4L900.5 370.8L877.2 370.8Z" fill="rgba(222,211,37,0.71)" stroke="#3a3a20" stroke-width="1.0"/>
<path d="M890.1 316.3L901.7 335.7L878.4 335.7Z" fill="rgba(222,211,37,0.71)" stroke="#3a3a20" stroke-width="1.0"/>
<path d="M891.5 281.4L903.2 300.8L879.9 300.8Z" fill="rgba(222,211,37,0.71)" stroke="#3a3a20" stroke-width="1.0"/>
<path d="M893.5 246.7L905.1 266.1L881.8 266.1Z" fill="rgba(222,211,37,0.71)" stroke="#3a3a20" stroke-width="1.0"/>
<path d="M896.4 212.0L908.1 231.4L884.8 231.4Z" fill="rgba(222,211,37,0.71)" stroke="#3a3a20" stroke-width="1.0"/>
<path d="M902.0 178.3L913.7 197.7L890.4 197.7Z" fill="rgba(222,211,37,0.71)" stroke="#3a3a20" stroke-width="1.0"/>
<path d="M915.0 154.4L926.7 173.8L903.4 173.8Z" fill="rgba(222,211,37,0.71)" stroke="#3a3a20" stroke-width="1.0"/>
<path d="M927.5 147.3L939.1 166.7L915.8 166.7Z" fill="rgba(222,211,37,0.71)" stroke="#3a3a20" stroke-width="1.0"/>
<path d="M937.4 144.2L949.0 163.6L925.7 163.6Z" fill="rgba(222,211,37,0.71)" stroke="#3a3a20" stroke-width="1.0"/>
<path d="M946.4 142.3L958.0 161.7L934.7 161.7Z" fill="rgba(222,211,37,0.71)" stroke="#3a3a20" stroke-width="1.0"/>
<path d="M954.9 140.9L966.6 160.3L943.3 160.3Z" fill="rgba(222,211,37,0.71)" stroke="#3a3a20" stroke-width="1.0"/>
<path d="M963.3 139.8L975.0 159.2L951.7 159.2Z" fill="rgba(222,211,37,0.71)" stroke="#3a3a20" stroke-width="1.0"/>
<path d="M971.6 139.0L983.2 158.4L959.9 158.4Z" fill="rgba(222,211,37,0.71)" stroke="#3a3a20" stroke-width="1.0"/>
<path d="M979.7 138.3L991.4 157.7L968.1 157.7Z" fill="rgba(222,211,37,0.71)" stroke="#3a3a20" stroke-width="1.0"/>
<path d="M987.8 137.7L999.5 157.1L976.2 157.1Z" fill="rgba(222,211,37,0.71)" stroke="#3a3a20" stroke-width="1.0"/>
</g><g>
<circle cx="1416.7" cy="236.1" r="9.0" fill="#fff" stroke="#1A9A1A" stroke-width="2"/>
<circle cx="1390.1" cy="236.6" r="9.0" fill="#fff" stroke="#1A9A1A" stroke-width="2"/>
<circle cx="1363.5" cy="237.1" r="9.0" fill="#fff" stroke="#1A9A1A" stroke-width="2"/>
<circle cx="1336.8" cy="237.8" r="9.0" fill="#fff" stroke="#1A9A1A" stroke-width="2"/>
<circle cx="1310.2" cy="238.4" r="9.0" fill="#fff" stroke="#1A9A1A" stroke-width="2"/>
<circle cx="1283.6" cy="239.2" r="9.0" fill="#fff" stroke="#1A9A1A" stroke-width="2"/>
<circle cx="1257.0" cy="240.1" r="9.0" fill="#fff" stroke="#1A9A1A" stroke-width="2"/>
<circle cx="1230.3" cy="241.1" r="9.0" fill="#fff" stroke="#1A9A1A" stroke-width="2"/>
<circle cx="1203.7" cy="242.3" r="9.0" fill="#fff" stroke="#1A9A1A" stroke-width="2"/>
<circle cx="1177.1" cy="243.7" r="9.0" fill="#fff" stroke="#1A9A1A" stroke-width="2"/>
<circle cx="1150.5" cy="245.4" r="9.0" fill="#fff" stroke="#1A9A1A" stroke-width="2"/>
<circle cx="1123.8" cy="247.5" r="9.0" fill="#fff" stroke="#1A9A1A" stroke-width="2"/>
<circle cx="1097.2" cy="250.0" r="9.0" fill="#fff" stroke="#1A9A1A" stroke-width="2"/>
<circle cx="1070.6" cy="253.4" r="9.0" fill="#fff" stroke="#1A9A1A" stroke-width="2"/>
<circle cx="1044.0" cy="257.8" r="9.0" fill="#fff" stroke="#1A9A1A" stroke-width="2"/>
<circle cx="1017.3" cy="264.0" r="9.0" fill="#fff" stroke="#1A9A1A" stroke-width="2"/>
<circle cx="989.3" cy="273.9" r="9.0" fill="#fff" stroke="#1A9A1A" stroke-width="2"/>
<circle cx="981.2" cy="277.8" r="9.0" fill="#fff" stroke="#1A9A1A" stroke-width="2"/>
<circle cx="972.5" cy="282.8" r="9.0" fill="#fff" stroke="#1A9A1A" stroke-width="2"/>
<circle cx="963.3" cy="289.3" r="9.0" fill="#fff" stroke="#1A9A1A" stroke-width="2"/>
<circle cx="953.5" cy="298.0" r="9.0" fill="#fff" stroke="#1A9A1A" stroke-width="2"/>
<circle cx="943.7" cy="309.7" r="9.0" fill="#fff" stroke="#1A9A1A" stroke-width="2"/>
<circle cx="934.4" cy="324.5" r="9.0" fill="#fff" stroke="#1A9A1A" stroke-width="2"/>
<circle cx="926.3" cy="341.8" r="9.0" fill="#fff" stroke="#1A9A1A" stroke-width="2"/>
<circle cx="919.5" cy="360.8" r="9.0" fill="#fff" stroke="#1A9A1A" stroke-width="2"/>
<circle cx="913.9" cy="380.8" r="9.0" fill="#fff" stroke="#1A9A1A" stroke-width="2"/>
<circle cx="909.0" cy="401.4" r="9.0" fill="#fff" stroke="#1A9A1A" stroke-width="2"/>
<circle cx="904.8" cy="422.3" r="9.0" fill="#fff" stroke="#1A9A1A" stroke-width="2"/>
<circle cx="901.0" cy="443.5" r="9.0" fill="#fff" stroke="#1A9A1A" stroke-width="2"/>
<circle cx="897.5" cy="464.8" r="9.0" fill="#fff" stroke="#1A9A1A" stroke-width="2"/>
<circle cx="894.2" cy="486.2" r="9.0" fill="#fff" stroke="#1A9A1A" stroke-width="2"/>
<circle cx="891.1" cy="507.6" r="9.0" fill="#fff" stroke="#1A9A1A" stroke-width="2"/>
<circle cx="888.2" cy="529.2" r="9.0" fill="#fff" stroke="#1A9A1A" stroke-width="2"/>
<circle cx="885.2" cy="550.6" r="9.0" fill="#fff" stroke="#1A9A1A" stroke-width="2"/>
<circle cx="882.3" cy="572.2" r="9.0" fill="#fff" stroke="#1A9A1A" stroke-width="2"/>
<circle cx="879.4" cy="593.6" r="9.0" fill="#fff" stroke="#1A9A1A" stroke-width="2"/>
<circle cx="876.4" cy="615.1" r="9.0" fill="#fff" stroke="#1A9A1A" stroke-width="2"/>
<circle cx="873.2" cy="636.5" r="9.0" fill="#fff" stroke="#1A9A1A" stroke-width="2"/>
<circle cx="869.9" cy="657.9" r="9.0" fill="#fff" stroke="#1A9A1A" stroke-width="2"/>
<circle cx="866.3" cy="679.2" r="9.0" fill="#fff" stroke="#1A9A1A" stroke-width="2"/>
<circle cx="862.3" cy="700.3" r="9.0" fill="#fff" stroke="#1A9A1A" stroke-width="2"/>
<circle cx="857.9" cy="721.1" r="9.0" fill="#fff" stroke="#1A9A1A" stroke-width="2"/>
<circle cx="852.8" cy="741.6" r="9.0" fill="#fff" stroke="#1A9A1A" stroke-width="2"/>
<circle cx="846.7" cy="761.2" r="9.0" fill="#fff" stroke="#1A9A1A" stroke-width="2"/>
<circle cx="839.5" cy="779.8" r="9.0" fill="#fff" stroke="#1A9A1A" stroke-width="2"/>
<circle cx="831.0" cy="796.3" r="9.0" fill="#fff" stroke="#1A9A1A" stroke-width="2"/>
<circle cx="821.4" cy="810.0" r="9.0" fill="#fff" stroke="#1A9A1A" stroke-width="2"/>
<circle cx="816.8" cy="815.2" r="9.0" fill="#fff" stroke="#1A9A1A" stroke-width="2"/>
<circle cx="814.8" cy="817.3" r="9.0" fill="#fff" stroke="#1A9A1A" stroke-width="2"/>
<circle cx="812.9" cy="819.2" r="9.0" fill="#fff" stroke="#1A9A1A" stroke-width="2"/>
<circle cx="810.9" cy="821.1" r="9.0" fill="#fff" stroke="#1A9A1A" stroke-width="2"/>
<circle cx="808.9" cy="822.8" r="9.0" fill="#fff" stroke="#1A9A1A" stroke-width="2"/>
<circle cx="807.0" cy="824.4" r="9.0" fill="#fff" stroke="#1A9A1A" stroke-width="2"/>
<circle cx="805.1" cy="826.0" r="9.0" fill="#fff" stroke="#1A9A1A" stroke-width="2"/>
<circle cx="803.2" cy="827.4" r="9.0" fill="#fff" stroke="#1A9A1A" stroke-width="2"/>
<circle cx="801.3" cy="828.8" r="9.0" fill="#fff" stroke="#1A9A1A" stroke-width="2"/>
<circle cx="799.5" cy="830.1" r="9.0" fill="#fff" stroke="#1A9A1A" stroke-width="2"/>
<circle cx="797.7" cy="831.3" r="9.0" fill="#fff" stroke="#1A9A1A" stroke-width="2"/>
<circle cx="795.9" cy="832.4" r="9.0" fill="#fff" stroke="#1A9A1A" stroke-width="2"/>
<circle cx="794.1" cy="833.5" r="9.0" fill="#fff" stroke="#1A9A1A" stroke-width="2"/>
<circle cx="792.4" cy="834.6" r="9.0" fill="#fff" stroke="#1A9A1A" stroke-width="2"/>
<circle cx="790.6" cy="835.6" r="9.0" fill="#fff" stroke="#1A9A1A" stroke-width="2"/>
<circle cx="788.9" cy="836.5" r="9.0" fill="#fff" stroke="#1A9A1A" stroke-width="2"/>
<circle cx="787.2" cy="837.4" r="9.0" fill="#fff" stroke="#1A9A1A" stroke-width="2"/>
<circle cx="785.6" cy="838.2" r="9.0" fill="#fff" stroke="#1A9A1A" stroke-width="2"/>
<circle cx="783.9" cy="839.1" r="9.0" fill="#fff" stroke="#1A9A1A" stroke-width="2"/>
<circle cx="782.3" cy="839.8" r="9.0" fill="#fff" stroke="#1A9A1A" stroke-width="2"/>
<circle cx="780.7" cy="840.6" r="9.0" fill="#fff" stroke="#1A9A1A" stroke-width="2"/>
<circle cx="779.1" cy="841.3" r="9.0" fill="#fff" stroke="#1A9A1A" stroke-width="2"/>
<circle cx="751.1" cy="851.2" r="9.0" fill="#fff" stroke="#1A9A1A" stroke-width="2"/>
<circle cx="724.5" cy="857.3" r="9.0" fill="#fff" stroke="#1A9A1A" stroke-width="2"/>
<circle cx="697.8" cy="861.7" r="9.0" fill="#fff" stroke="#1A9A1A" stroke-width="2"/>
<circle cx="671.2" cy="865.0" r="9.0" fill="#fff" stroke="#1A9A1A" stroke-width="2"/>
<circle cx="644.6" cy="867.6" r="9.0" fill="#fff" stroke="#1A9A1A" stroke-width="2"/>
<circle cx="618.0" cy="869.6" r="9.0" fill="#fff" stroke="#1A9A1A" stroke-width="2"/>
<circle cx="591.3" cy="871.3" r="9.0" fill="#fff" stroke="#1A9A1A" stroke-width="2"/>
<circle cx="564.7" cy="872.7" r="9.0" fill="#fff" stroke="#1A9A1A" stroke-width="2"/>
<circle cx="538.1" cy="873.9" r="9.0" fill="#fff" stroke="#1A9A1A" stroke-width="2"/>
<circle cx="511.5" cy="874.9" r="9.0" fill="#fff" stroke="#1A9A1A" stroke-width="2"/>
<circle cx="484.8" cy="875.8" r="9.0" fill="#fff" stroke="#1A9A1A" stroke-width="2"/>
<circle cx="458.2" cy="876.6" r="9.0" fill="#fff" stroke="#1A9A1A" stroke-width="2"/>
<circle cx="431.6" cy="877.2" r="9.0" fill="#fff" stroke="#1A9A1A" stroke-width="2"/>
<circle cx="405.0" cy="877.8" r="9.0" fill="#fff" stroke="#1A9A1A" stroke-width="2"/>
<circle cx="378.3" cy="878.4" r="9.0" fill="#fff" stroke="#1A9A1A" stroke-width="2"/>
<circle cx="351.7" cy="878.9" r="9.0" fill="#fff" stroke="#1A9A1A" stroke-width="2"/>
<circle cx="778.3" cy="841.7" r="9.0" fill="#fff" stroke="#1A9A1A" stroke-width="2"/>
<circle cx="779.9" cy="841.0" r="9.0" fill="#fff" stroke="#1A9A1A" stroke-width="2"/>
<circle cx="781.5" cy="840.2" r="9.0" fill="#fff" stroke="#1A9A1A" stroke-width="2"/>
<circle cx="783.1" cy="839.5" r="9.0" fill="#fff" stroke="#1A9A1A" stroke-width="2"/>
<circle cx="784.8" cy="838.7" r="9.0" fill="#fff" stroke="#1A9A1A" stroke-width="2"/>
<circle cx="786.4" cy="837.8" r="9.0" fill="#fff" stroke="#1A9A1A" stroke-width="2"/>
<circle cx="788.1" cy="836.9" r="9.0" fill="#fff" stroke="#1A9A1A" stroke-width="2"/>
<circle cx="789.8" cy="836.0" r="9.0" fill="#fff" stroke="#1A9A1A" stroke-width="2"/>
<circle cx="791.5" cy="835.1" r="9.0" fill="#fff" stroke="#1A9A1A" stroke-width="2"/>
<circle cx="793.2" cy="834.1" r="9.0" fill="#fff" stroke="#1A9A1A" stroke-width="2"/>
<circle cx="795.0" cy="833.0" r="9.0" fill="#fff" stroke="#1A9A1A" stroke-width="2"/>
<circle cx="796.8" cy="831.9" r="9.0" fill="#fff" stroke="#1A9A1A" stroke-width="2"/>
<circle cx="798.6" cy="830.7" r="9.0" fill="#fff" stroke="#1A9A1A" stroke-width="2"/>
<circle cx="800.4" cy="829.4" r="9.0" fill="#fff" stroke="#1A9A1A" stroke-width="2"/>
<circle cx="802.3" cy="828.1" r="9.0" fill="#fff" stroke="#1A9A1A" stroke-width="2"/>
<circle cx="804.1" cy="826.7" r="9.0" fill="#fff" stroke="#1A9A1A" stroke-width="2"/>
<circle cx="806.1" cy="825.2" r="9.0" fill="#fff" stroke="#1A9A1A" stroke-width="2"/>
<circle cx="808.0" cy="823.6" r="9.0" fill="#fff" stroke="#1A9A1A" stroke-width="2"/>
<circle cx="809.9" cy="821.9" r="9.0" fill="#fff" stroke="#1A9A1A" stroke-width="2"/>
<circle cx="811.9" cy="820.2" r="9.0" fill="#fff" stroke="#1A9A1A" stroke-width="2"/>
<circle cx="813.8" cy="818.3" r="9.0" fill="#fff" stroke="#1A9A1A" stroke-width="2"/>
<circle cx="815.8" cy="816.3" r="9.0" fill="#fff" stroke="#1A9A1A" stroke-width="2"/>
<circle cx="817.8" cy="814.1" r="9.0" fill="#fff" stroke="#1A9A1A" stroke-width="2"/>
<circle cx="826.3" cy="803.5" r="9.0" fill="#fff" stroke="#1A9A1A" stroke-width="2"/>
<circle cx="835.4" cy="788.3" r="9.0" fill="#fff" stroke="#1A9A1A" stroke-width="2"/>
<circle cx="843.3" cy="770.7" r="9.0" fill="#fff" stroke="#1A9A1A" stroke-width="2"/>
<circle cx="849.9" cy="751.5" r="9.0" fill="#fff" stroke="#1A9A1A" stroke-width="2"/>
<circle cx="855.4" cy="731.4" r="9.0" fill="#fff" stroke="#1A9A1A" stroke-width="2"/>
<circle cx="860.2" cy="710.8" r="9.0" fill="#fff" stroke="#1A9A1A" stroke-width="2"/>
<circle cx="864.4" cy="689.7" r="9.0" fill="#fff" stroke="#1A9A1A" stroke-width="2"/>
<circle cx="868.1" cy="668.6" r="9.0" fill="#fff" stroke="#1A9A1A" stroke-width="2"/>
<circle cx="871.6" cy="647.3" r="9.0" fill="#fff" stroke="#1A9A1A" stroke-width="2"/>
<circle cx="874.8" cy="625.9" r="9.0" fill="#fff" stroke="#1A9A1A" stroke-width="2"/>
<circle cx="877.9" cy="604.4" r="9.0" fill="#fff" stroke="#1A9A1A" stroke-width="2"/>
<circle cx="880.9" cy="582.9" r="9.0" fill="#fff" stroke="#1A9A1A" stroke-width="2"/>
<circle cx="883.8" cy="561.4" r="9.0" fill="#fff" stroke="#1A9A1A" stroke-width="2"/>
<circle cx="886.7" cy="539.9" r="9.0" fill="#fff" stroke="#1A9A1A" stroke-width="2"/>
<circle cx="889.6" cy="518.4" r="9.0" fill="#fff" stroke="#1A9A1A" stroke-width="2"/>
<circle cx="892.7" cy="496.9" r="9.0" fill="#fff" stroke="#1A9A1A" stroke-width="2"/>
<circle cx="895.8" cy="475.5" r="9.0" fill="#fff" stroke="#1A9A1A" stroke-width="2"/>
<circle cx="899.2" cy="454.1" r="9.0" fill="#fff" stroke="#1A9A1A" stroke-width="2"/>
<circle cx="902.8" cy="432.9" r="9.0" fill="#fff" stroke="#1A9A1A" stroke-width="2"/>
<circle cx="906.8" cy="411.8" r="9.0" fill="#fff" stroke="#1A9A1A" stroke-width="2"/>
<circle cx="911.3" cy="391.0" r="9.0" fill="#fff" stroke="#1A9A1A" stroke-width="2"/>
<circle cx="916.6" cy="370.7" r="9.0" fill="#fff" stroke="#1A9A1A" stroke-width="2"/>
<circle cx="922.8" cy="351.2" r="9.0" fill="#fff" stroke="#1A9A1A" stroke-width="2"/>
<circle cx="930.2" cy="332.9" r="9.0" fill="#fff" stroke="#1A9A1A" stroke-width="2"/>
<circle cx="938.9" cy="316.7" r="9.0" fill="#fff" stroke="#1A9A1A" stroke-width="2"/>
<circle cx="948.6" cy="303.5" r="9.0" fill="#fff" stroke="#1A9A1A" stroke-width="2"/>
<circle cx="958.5" cy="293.4" r="9.0" fill="#fff" stroke="#1A9A1A" stroke-width="2"/>
<circle cx="968.0" cy="285.8" r="9.0" fill="#fff" stroke="#1A9A1A" stroke-width="2"/>
<circle cx="976.9" cy="280.1" r="9.0" fill="#fff" stroke="#1A9A1A" stroke-width="2"/>
<circle cx="985.3" cy="275.7" r="9.0" fill="#fff" stroke="#1A9A1A" stroke-width="2"/>
</g><g>
<path d="M1416.7 230.0L1428.2 241.5L1416.7 253.0L1405.2 241.5Z" fill="#fff" stroke="#D81818" stroke-width="2"/>
<path d="M1390.1 230.0L1401.6 241.5L1390.1 253.0L1378.6 241.5Z" fill="#fff" stroke="#D81818" stroke-width="2"/>
<path d="M1363.5 230.0L1375.0 241.5L1363.5 253.0L1352.0 241.5Z" fill="#fff" stroke="#D81818" stroke-width="2"/>
<path d="M1310.2 230.0L1321.7 241.5L1310.2 253.0L1298.7 241.5Z" fill="#fff" stroke="#D81818" stroke-width="2"/>
<path d="M1283.6 230.0L1295.1 241.5L1283.6 253.0L1272.1 241.5Z" fill="#fff" stroke="#D81818" stroke-width="2"/>
<path d="M1257.0 230.0L1268.5 241.5L1257.0 253.0L1245.5 241.5Z" fill="#fff" stroke="#D81818" stroke-width="2"/>
<path d="M1230.3 230.0L1241.8 241.5L1230.3 253.0L1218.8 241.5Z" fill="#fff" stroke="#D81818" stroke-width="2"/>
<path d="M1203.7 230.0L1215.2 241.5L1203.7 253.0L1192.2 241.5Z" fill="#fff" stroke="#D81818" stroke-width="2"/>
<path d="M1177.1 230.0L1188.6 241.5L1177.1 253.0L1165.6 241.5Z" fill="#fff" stroke="#D81818" stroke-width="2"/>
<path d="M1150.5 230.0L1162.0 241.5L1150.5 253.0L1139.0 241.5Z" fill="#fff" stroke="#D81818" stroke-width="2"/>
<path d="M1123.8 230.0L1135.3 241.5L1123.8 253.0L1112.3 241.5Z" fill="#fff" stroke="#D81818" stroke-width="2"/>
<path d="M1097.2 230.7L1108.7 242.2L1097.2 253.7L1085.7 242.2Z" fill="#fff" stroke="#D81818" stroke-width="2"/>
<path d="M1070.6 233.3L1082.1 244.8L1070.6 256.3L1059.1 244.8Z" fill="#fff" stroke="#D81818" stroke-width="2"/>
<path d="M1044.0 237.9L1055.5 249.4L1044.0 260.9L1032.5 249.4Z" fill="#fff" stroke="#D81818" stroke-width="2"/>
<path d="M1017.3 244.6L1028.8 256.1L1017.3 267.6L1005.8 256.1Z" fill="#fff" stroke="#D81818" stroke-width="2"/>
<path d="M986.2 257.3L997.7 268.8L986.2 280.3L974.7 268.8Z" fill="#fff" stroke="#D81818" stroke-width="2"/>
<path d="M978.8 259.9L990.3 271.4L978.8 282.9L967.3 271.4Z" fill="#fff" stroke="#D81818" stroke-width="2"/>
<path d="M971.1 263.2L982.6 274.7L971.1 286.2L959.6 274.7Z" fill="#fff" stroke="#D81818" stroke-width="2"/>
<path d="M962.8 267.3L974.3 278.8L962.8 290.3L951.3 278.8Z" fill="#fff" stroke="#D81818" stroke-width="2"/>
<path d="M953.9 272.9L965.4 284.4L953.9 295.9L942.4 284.4Z" fill="#fff" stroke="#D81818" stroke-width="2"/>
<path d="M944.4 280.8L955.9 292.3L944.4 303.8L932.9 292.3Z" fill="#fff" stroke="#D81818" stroke-width="2"/>
<path d="M934.5 292.0L946.0 303.5L934.5 315.0L923.0 303.5Z" fill="#fff" stroke="#D81818" stroke-width="2"/>
<path d="M925.3 307.0L936.8 318.5L925.3 330.0L913.8 318.5Z" fill="#fff" stroke="#D81818" stroke-width="2"/>
<path d="M917.7 325.0L929.2 336.5L917.7 348.0L906.2 336.5Z" fill="#fff" stroke="#D81818" stroke-width="2"/>
<path d="M911.8 344.7L923.3 356.2L911.8 367.7L900.3 356.2Z" fill="#fff" stroke="#D81818" stroke-width="2"/>
<path d="M907.0 365.4L918.5 376.9L907.0 388.4L895.5 376.9Z" fill="#fff" stroke="#D81818" stroke-width="2"/>
<path d="M903.1 386.5L914.6 398.0L903.1 409.5L891.6 398.0Z" fill="#fff" stroke="#D81818" stroke-width="2"/>
<path d="M899.8 407.9L911.3 419.4L899.8 430.9L888.3 419.4Z" fill="#fff" stroke="#D81818" stroke-width="2"/>
<path d="M896.9 429.3L908.4 440.8L896.9 452.3L885.4 440.8Z" fill="#fff" stroke="#D81818" stroke-width="2"/>
<path d="M894.2 450.9L905.7 462.4L894.2 473.9L882.7 462.4Z" fill="#fff" stroke="#D81818" stroke-width="2"/>
<path d="M891.8 472.7L903.3 484.2L891.8 495.7L880.3 484.2Z" fill="#fff" stroke="#D81818" stroke-width="2"/>
<path d="M889.5 494.3L901.0 505.8L889.5 517.3L878.0 505.8Z" fill="#fff" stroke="#D81818" stroke-width="2"/>
<path d="M887.3 516.0L898.8 527.5L887.3 539.0L875.8 527.5Z" fill="#fff" stroke="#D81818" stroke-width="2"/>
<path d="M885.1 537.8L896.6 549.3L885.1 560.8L873.6 549.3Z" fill="#fff" stroke="#D81818" stroke-width="2"/>
<path d="M882.9 559.6L894.4 571.1L882.9 582.6L871.4 571.1Z" fill="#fff" stroke="#D81818" stroke-width="2"/>
<path d="M880.8 581.2L892.3 592.7L880.8 604.2L869.3 592.7Z" fill="#fff" stroke="#D81818" stroke-width="2"/>
<path d="M878.6 602.9L890.1 614.4L878.6 625.9L867.1 614.4Z" fill="#fff" stroke="#D81818" stroke-width="2"/>
<path d="M876.3 624.6L887.8 636.1L876.3 647.6L864.8 636.1Z" fill="#fff" stroke="#D81818" stroke-width="2"/>
<path d="M873.8 646.3L885.3 657.8L873.8 669.3L862.3 657.8Z" fill="#fff" stroke="#D81818" stroke-width="2"/>
<path d="M871.1 667.9L882.6 679.4L871.1 690.9L859.6 679.4Z" fill="#fff" stroke="#D81818" stroke-width="2"/>
<path d="M868.2 689.4L879.7 700.9L868.2 712.4L856.7 700.9Z" fill="#fff" stroke="#D81818" stroke-width="2"/>
<path d="M864.8 710.8L876.3 722.3L864.8 733.8L853.3 722.3Z" fill="#fff" stroke="#D81818" stroke-width="2"/>
<path d="M860.8 731.9L872.3 743.4L860.8 754.9L849.3 743.4Z" fill="#fff" stroke="#D81818" stroke-width="2"/>
<path d="M855.9 752.5L867.4 764.0L855.9 775.5L844.4 764.0Z" fill="#fff" stroke="#D81818" stroke-width="2"/>
<path d="M849.8 772.1L861.3 783.6L849.8 795.1L838.3 783.6Z" fill="#fff" stroke="#D81818" stroke-width="2"/>
<path d="M842.0 789.8L853.5 801.3L842.0 812.8L830.5 801.3Z" fill="#fff" stroke="#D81818" stroke-width="2"/>
<path d="M832.7 804.5L844.2 816.0L832.7 827.5L821.2 816.0Z" fill="#fff" stroke="#D81818" stroke-width="2"/>
<path d="M822.9 815.3L834.4 826.8L822.9 838.3L811.4 826.8Z" fill="#fff" stroke="#D81818" stroke-width="2"/>
<path d="M817.2 820.0L828.7 831.5L817.2 843.0L805.7 831.5Z" fill="#fff" stroke="#D81818" stroke-width="2"/>
<path d="M815.3 821.5L826.8 833.0L815.3 844.5L803.8 833.0Z" fill="#fff" stroke="#D81818" stroke-width="2"/>
<path d="M813.5 822.8L825.0 834.3L813.5 845.8L802.0 834.3Z" fill="#fff" stroke="#D81818" stroke-width="2"/>
<path d="M811.6 824.0L823.1 835.5L811.6 847.0L800.1 835.5Z" fill="#fff" stroke="#D81818" stroke-width="2"/>
<path d="M809.8 825.1L821.3 836.6L809.8 848.1L798.3 836.6Z" fill="#fff" stroke="#D81818" stroke-width="2"/>
<path d="M808.1 826.2L819.6 837.7L808.1 849.2L796.6 837.7Z" fill="#fff" stroke="#D81818" stroke-width="2"/>
<path d="M806.3 827.2L817.8 838.7L806.3 850.2L794.8 838.7Z" fill="#fff" stroke="#D81818" stroke-width="2"/>
<path d="M804.6 828.2L816.1 839.7L804.6 851.2L793.1 839.7Z" fill="#fff" stroke="#D81818" stroke-width="2"/>
<path d="M802.9 829.1L814.4 840.6L802.9 852.1L791.4 840.6Z" fill="#fff" stroke="#D81818" stroke-width="2"/>
<path d="M801.3 829.9L812.8 841.4L801.3 852.9L789.8 841.4Z" fill="#fff" stroke="#D81818" stroke-width="2"/>
<path d="M799.6 830.8L811.1 842.3L799.6 853.8L788.1 842.3Z" fill="#fff" stroke="#D81818" stroke-width="2"/>
<path d="M798.0 831.5L809.5 843.0L798.0 854.5L786.5 843.0Z" fill="#fff" stroke="#D81818" stroke-width="2"/>
<path d="M796.4 832.3L807.9 843.8L796.4 855.3L784.9 843.8Z" fill="#fff" stroke="#D81818" stroke-width="2"/>
<path d="M794.8 832.9L806.3 844.4L794.8 855.9L783.3 844.4Z" fill="#fff" stroke="#D81818" stroke-width="2"/>
<path d="M793.3 833.6L804.8 845.1L793.3 856.6L781.8 845.1Z" fill="#fff" stroke="#D81818" stroke-width="2"/>
<path d="M791.8 834.2L803.3 845.7L791.8 857.2L780.3 845.7Z" fill="#fff" stroke="#D81818" stroke-width="2"/>
<path d="M790.2 834.8L801.7 846.3L790.2 857.8L778.7 846.3Z" fill="#fff" stroke="#D81818" stroke-width="2"/>
<path d="M788.7 835.4L800.2 846.9L788.7 858.4L777.2 846.9Z" fill="#fff" stroke="#D81818" stroke-width="2"/>
<path d="M787.2 836.0L798.7 847.5L787.2 859.0L775.7 847.5Z" fill="#fff" stroke="#D81818" stroke-width="2"/>
<path d="M785.8 836.5L797.3 848.0L785.8 859.5L774.3 848.0Z" fill="#fff" stroke="#D81818" stroke-width="2"/>
<path d="M784.3 837.0L795.8 848.5L784.3 860.0L772.8 848.5Z" fill="#fff" stroke="#D81818" stroke-width="2"/>
<path d="M782.8 837.5L794.3 849.0L782.8 860.5L771.3 849.0Z" fill="#fff" stroke="#D81818" stroke-width="2"/>
<path d="M781.4 838.0L792.9 849.5L781.4 861.0L769.9 849.5Z" fill="#fff" stroke="#D81818" stroke-width="2"/>
<path d="M780.0 838.5L791.5 850.0L780.0 861.5L768.5 850.0Z" fill="#fff" stroke="#D81818" stroke-width="2"/>
<path d="M778.6 838.9L790.1 850.4L778.6 861.9L767.1 850.4Z" fill="#fff" stroke="#D81818" stroke-width="2"/>
<path d="M751.1 846.9L762.6 858.4L751.1 869.9L739.6 858.4Z" fill="#fff" stroke="#D81818" stroke-width="2"/>
<path d="M724.5 853.5L736.0 865.0L724.5 876.5L713.0 865.0Z" fill="#fff" stroke="#D81818" stroke-width="2"/>
<path d="M697.8 858.1L709.3 869.6L697.8 881.1L686.3 869.6Z" fill="#fff" stroke="#D81818" stroke-width="2"/>
<path d="M671.2 860.7L682.7 872.2L671.2 883.7L659.7 872.2Z" fill="#fff" stroke="#D81818" stroke-width="2"/>
<path d="M644.6 861.4L656.1 872.9L644.6 884.4L633.1 872.9Z" fill="#fff" stroke="#D81818" stroke-width="2"/>
<path d="M618.0 861.4L629.5 872.9L618.0 884.4L606.5 872.9Z" fill="#fff" stroke="#D81818" stroke-width="2"/>
<path d="M591.3 861.4L602.8 872.9L591.3 884.4L579.8 872.9Z" fill="#fff" stroke="#D81818" stroke-width="2"/>
<path d="M564.7 861.4L576.2 872.9L564.7 884.4L553.2 872.9Z" fill="#fff" stroke="#D81818" stroke-width="2"/>
<path d="M538.1 861.4L549.6 872.9L538.1 884.4L526.6 872.9Z" fill="#fff" stroke="#D81818" stroke-width="2"/>
<path d="M511.5 861.4L523.0 872.9L511.5 884.4L500.0 872.9Z" fill="#fff" stroke="#D81818" stroke-width="2"/>
<path d="M484.8 861.4L496.3 872.9L484.8 884.4L473.3 872.9Z" fill="#fff" stroke="#D81818" stroke-width="2"/>
<path d="M458.2 861.4L469.7 872.9L458.2 884.4L446.7 872.9Z" fill="#fff" stroke="#D81818" stroke-width="2"/>
<path d="M431.6 861.4L443.1 872.9L431.6 884.4L420.1 872.9Z" fill="#fff" stroke="#D81818" stroke-width="2"/>
<path d="M405.0 861.4L416.5 872.9L405.0 884.4L393.5 872.9Z" fill="#fff" stroke="#D81818" stroke-width="2"/>
<path d="M378.3 861.4L389.8 872.9L378.3 884.4L366.8 872.9Z" fill="#fff" stroke="#D81818" stroke-width="2"/>
<path d="M351.7 861.4L363.2 872.9L351.7 884.4L340.2 872.9Z" fill="#fff" stroke="#D81818" stroke-width="2"/>
<path d="M777.8 839.1L789.3 850.6L777.8 862.1L766.3 850.6Z" fill="#fff" stroke="#D81818" stroke-width="2"/>
<path d="M779.3 838.7L790.8 850.2L779.3 861.7L767.8 850.2Z" fill="#fff" stroke="#D81818" stroke-width="2"/>
<path d="M780.7 838.2L792.2 849.7L780.7 861.2L769.2 849.7Z" fill="#fff" stroke="#D81818" stroke-width="2"/>
<path d="M782.1 837.8L793.6 849.3L782.1 860.8L770.6 849.3Z" fill="#fff" stroke="#D81818" stroke-width="2"/>
<path d="M783.6 837.3L795.1 848.8L783.6 860.3L772.1 848.8Z" fill="#fff" stroke="#D81818" stroke-width="2"/>
<path d="M785.0 836.8L796.5 848.3L785.0 859.8L773.5 848.3Z" fill="#fff" stroke="#D81818" stroke-width="2"/>
<path d="M786.5 836.3L798.0 847.8L786.5 859.3L775.0 847.8Z" fill="#fff" stroke="#D81818" stroke-width="2"/>
<path d="M788.0 835.7L799.5 847.2L788.0 858.7L776.5 847.2Z" fill="#fff" stroke="#D81818" stroke-width="2"/>
<path d="M789.5 835.1L801.0 846.6L789.5 858.1L778.0 846.6Z" fill="#fff" stroke="#D81818" stroke-width="2"/>
<path d="M791.0 834.5L802.5 846.0L791.0 857.5L779.5 846.0Z" fill="#fff" stroke="#D81818" stroke-width="2"/>
<path d="M792.5 833.9L804.0 845.4L792.5 856.9L781.0 845.4Z" fill="#fff" stroke="#D81818" stroke-width="2"/>
<path d="M794.1 833.3L805.6 844.8L794.1 856.3L782.6 844.8Z" fill="#fff" stroke="#D81818" stroke-width="2"/>
<path d="M795.6 832.6L807.1 844.1L795.6 855.6L784.1 844.1Z" fill="#fff" stroke="#D81818" stroke-width="2"/>
<path d="M797.2 831.9L808.7 843.4L797.2 854.9L785.7 843.4Z" fill="#fff" stroke="#D81818" stroke-width="2"/>
<path d="M798.8 831.1L810.3 842.6L798.8 854.1L787.3 842.6Z" fill="#fff" stroke="#D81818" stroke-width="2"/>
<path d="M800.4 830.4L811.9 841.9L800.4 853.4L788.9 841.9Z" fill="#fff" stroke="#D81818" stroke-width="2"/>
<path d="M802.1 829.5L813.6 841.0L802.1 852.5L790.6 841.0Z" fill="#fff" stroke="#D81818" stroke-width="2"/>
<path d="M803.8 828.7L815.3 840.2L803.8 851.7L792.3 840.2Z" fill="#fff" stroke="#D81818" stroke-width="2"/>
<path d="M805.5 827.7L817.0 839.2L805.5 850.7L794.0 839.2Z" fill="#fff" stroke="#D81818" stroke-width="2"/>
<path d="M807.2 826.7L818.7 838.2L807.2 849.7L795.7 838.2Z" fill="#fff" stroke="#D81818" stroke-width="2"/>
<path d="M808.9 825.7L820.4 837.2L808.9 848.7L797.4 837.2Z" fill="#fff" stroke="#D81818" stroke-width="2"/>
<path d="M810.7 824.6L822.2 836.1L810.7 847.6L799.2 836.1Z" fill="#fff" stroke="#D81818" stroke-width="2"/>
<path d="M812.5 823.4L824.0 834.9L812.5 846.4L801.0 834.9Z" fill="#fff" stroke="#D81818" stroke-width="2"/>
<path d="M814.4 822.1L825.9 833.6L814.4 845.1L802.9 833.6Z" fill="#fff" stroke="#D81818" stroke-width="2"/>
<path d="M816.2 820.8L827.7 832.3L816.2 843.8L804.7 832.3Z" fill="#fff" stroke="#D81818" stroke-width="2"/>
<path d="M818.1 819.3L829.6 830.8L818.1 842.3L806.6 830.8Z" fill="#fff" stroke="#D81818" stroke-width="2"/>
<path d="M827.8 810.3L839.3 821.8L827.8 833.3L816.3 821.8Z" fill="#fff" stroke="#D81818" stroke-width="2"/>
<path d="M837.5 797.6L849.0 809.1L837.5 820.6L826.0 809.1Z" fill="#fff" stroke="#D81818" stroke-width="2"/>
<path d="M846.1 781.3L857.6 792.8L846.1 804.3L834.6 792.8Z" fill="#fff" stroke="#D81818" stroke-width="2"/>
<path d="M853.1 762.4L864.6 773.9L853.1 785.4L841.6 773.9Z" fill="#fff" stroke="#D81818" stroke-width="2"/>
<path d="M858.5 742.2L870.0 753.7L858.5 765.2L847.0 753.7Z" fill="#fff" stroke="#D81818" stroke-width="2"/>
<path d="M862.9 721.4L874.4 732.9L862.9 744.4L851.4 732.9Z" fill="#fff" stroke="#D81818" stroke-width="2"/>
<path d="M866.6 700.1L878.1 711.6L866.6 723.1L855.1 711.6Z" fill="#fff" stroke="#D81818" stroke-width="2"/>
<path d="M869.7 678.7L881.2 690.2L869.7 701.7L858.2 690.2Z" fill="#fff" stroke="#D81818" stroke-width="2"/>
<path d="M872.5 657.1L884.0 668.6L872.5 680.1L861.0 668.6Z" fill="#fff" stroke="#D81818" stroke-width="2"/>
<path d="M875.1 635.5L886.6 647.0L875.1 658.5L863.6 647.0Z" fill="#fff" stroke="#D81818" stroke-width="2"/>
<path d="M877.4 613.8L888.9 625.3L877.4 636.8L865.9 625.3Z" fill="#fff" stroke="#D81818" stroke-width="2"/>
<path d="M879.7 592.1L891.2 603.6L879.7 615.1L868.2 603.6Z" fill="#fff" stroke="#D81818" stroke-width="2"/>
<path d="M881.9 570.3L893.4 581.8L881.9 593.3L870.4 581.8Z" fill="#fff" stroke="#D81818" stroke-width="2"/>
<path d="M884.0 548.6L895.5 560.1L884.0 571.6L872.5 560.1Z" fill="#fff" stroke="#D81818" stroke-width="2"/>
<path d="M886.2 526.9L897.7 538.4L886.2 549.9L874.7 538.4Z" fill="#fff" stroke="#D81818" stroke-width="2"/>
<path d="M888.4 505.2L899.9 516.7L888.4 528.2L876.9 516.7Z" fill="#fff" stroke="#D81818" stroke-width="2"/>
<path d="M890.6 483.4L902.1 494.9L890.6 506.4L879.1 494.9Z" fill="#fff" stroke="#D81818" stroke-width="2"/>
<path d="M893.0 461.8L904.5 473.3L893.0 484.8L881.5 473.3Z" fill="#fff" stroke="#D81818" stroke-width="2"/>
<path d="M895.5 440.1L907.0 451.6L895.5 463.1L884.0 451.6Z" fill="#fff" stroke="#D81818" stroke-width="2"/>
<path d="M898.3 418.6L909.8 430.1L898.3 441.6L886.8 430.1Z" fill="#fff" stroke="#D81818" stroke-width="2"/>
<path d="M901.4 397.1L912.9 408.6L901.4 420.1L889.9 408.6Z" fill="#fff" stroke="#D81818" stroke-width="2"/>
<path d="M905.0 375.9L916.5 387.4L905.0 398.9L893.5 387.4Z" fill="#fff" stroke="#D81818" stroke-width="2"/>
<path d="M909.3 355.0L920.8 366.5L909.3 378.0L897.8 366.5Z" fill="#fff" stroke="#D81818" stroke-width="2"/>
<path d="M914.6 334.7L926.1 346.2L914.6 357.7L903.1 346.2Z" fill="#fff" stroke="#D81818" stroke-width="2"/>
<path d="M921.3 315.7L932.8 327.2L921.3 338.7L909.8 327.2Z" fill="#fff" stroke="#D81818" stroke-width="2"/>
<path d="M929.7 299.0L941.2 310.5L929.7 322.0L918.2 310.5Z" fill="#fff" stroke="#D81818" stroke-width="2"/>
<path d="M939.4 285.9L950.9 297.4L939.4 308.9L927.9 297.4Z" fill="#fff" stroke="#D81818" stroke-width="2"/>
<path d="M949.2 276.5L960.7 288.0L949.2 299.5L937.7 288.0Z" fill="#fff" stroke="#D81818" stroke-width="2"/>
<path d="M958.5 269.9L970.0 281.4L958.5 292.9L947.0 281.4Z" fill="#fff" stroke="#D81818" stroke-width="2"/>
<path d="M967.0 265.1L978.5 276.6L967.0 288.1L955.5 276.6Z" fill="#fff" stroke="#D81818" stroke-width="2"/>
<path d="M975.0 261.5L986.5 273.0L975.0 284.5L963.5 273.0Z" fill="#fff" stroke="#D81818" stroke-width="2"/>
<path d="M982.5 258.6L994.0 270.1L982.5 281.6L971.0 270.1Z" fill="#fff" stroke="#D81818" stroke-width="2"/>
<path d="M989.7 256.2L1001.2 267.7L989.7 279.2L978.2 267.7Z" fill="#fff" stroke="#D81818" stroke-width="2"/>
</g><g>
<path d="M1416.7 211.4L1428.2 230.4L1405.2 230.4Z" fill="rgba(255,255,255,0.8)" stroke="#EDE46A" stroke-width="1.8"/>
<path d="M1390.1 211.9L1401.6 230.9L1378.6 230.9Z" fill="rgba(255,255,255,0.8)" stroke="#EDE46A" stroke-width="1.8"/>
<path d="M1363.5 212.5L1375.0 231.5L1352.0 231.5Z" fill="rgba(255,255,255,0.8)" stroke="#EDE46A" stroke-width="1.8"/>
<path d="M1336.8 213.1L1348.3 232.1L1325.3 232.1Z" fill="rgba(255,255,255,0.8)" stroke="#EDE46A" stroke-width="1.8"/>
<path d="M1310.2 213.8L1321.7 232.8L1298.7 232.8Z" fill="rgba(255,255,255,0.8)" stroke="#EDE46A" stroke-width="1.8"/>
<path d="M1283.6 214.7L1295.1 233.7L1272.1 233.7Z" fill="rgba(255,255,255,0.8)" stroke="#EDE46A" stroke-width="1.8"/>
<path d="M1257.0 215.6L1268.5 234.6L1245.5 234.6Z" fill="rgba(255,255,255,0.8)" stroke="#EDE46A" stroke-width="1.8"/>
<path d="M1230.3 216.7L1241.8 235.7L1218.8 235.7Z" fill="rgba(255,255,255,0.8)" stroke="#EDE46A" stroke-width="1.8"/>
<path d="M1203.7 218.0L1215.2 237.0L1192.2 237.0Z" fill="rgba(255,255,255,0.8)" stroke="#EDE46A" stroke-width="1.8"/>
<path d="M1177.1 219.5L1188.6 238.5L1165.6 238.5Z" fill="rgba(255,255,255,0.8)" stroke="#EDE46A" stroke-width="1.8"/>
<path d="M1150.5 221.3L1162.0 240.3L1139.0 240.3Z" fill="rgba(255,255,255,0.8)" stroke="#EDE46A" stroke-width="1.8"/>
<path d="M1123.8 223.5L1135.3 242.5L1112.3 242.5Z" fill="rgba(255,255,255,0.8)" stroke="#EDE46A" stroke-width="1.8"/>
<path d="M1097.2 226.3L1108.7 245.3L1085.7 245.3Z" fill="rgba(255,255,255,0.8)" stroke="#EDE46A" stroke-width="1.8"/>
<path d="M1070.6 229.8L1082.1 248.8L1059.1 248.8Z" fill="rgba(255,255,255,0.8)" stroke="#EDE46A" stroke-width="1.8"/>
<path d="M1044.0 234.5L1055.5 253.5L1032.5 253.5Z" fill="rgba(255,255,255,0.8)" stroke="#EDE46A" stroke-width="1.8"/>
<path d="M1017.3 241.2L1028.8 260.2L1005.8 260.2Z" fill="rgba(255,255,255,0.8)" stroke="#EDE46A" stroke-width="1.8"/>
<path d="M988.0 252.4L999.5 271.4L976.5 271.4Z" fill="rgba(255,255,255,0.8)" stroke="#EDE46A" stroke-width="1.8"/>
<path d="M980.7 256.3L992.2 275.3L969.2 275.3Z" fill="rgba(255,255,255,0.8)" stroke="#EDE46A" stroke-width="1.8"/>
<path d="M972.9 261.1L984.4 280.1L961.4 280.1Z" fill="rgba(255,255,255,0.8)" stroke="#EDE46A" stroke-width="1.8"/>
<path d="M964.6 267.2L976.1 286.2L953.1 286.2Z" fill="rgba(255,255,255,0.8)" stroke="#EDE46A" stroke-width="1.8"/>
<path d="M955.9 275.2L967.4 294.2L944.4 294.2Z" fill="rgba(255,255,255,0.8)" stroke="#EDE46A" stroke-width="1.8"/>
<path d="M947.0 285.4L958.5 304.4L935.5 304.4Z" fill="rgba(255,255,255,0.8)" stroke="#EDE46A" stroke-width="1.8"/>
<path d="M938.5 298.3L950.0 317.3L927.0 317.3Z" fill="rgba(255,255,255,0.8)" stroke="#EDE46A" stroke-width="1.8"/>
<path d="M930.9 313.3L942.4 332.3L919.4 332.3Z" fill="rgba(255,255,255,0.8)" stroke="#EDE46A" stroke-width="1.8"/>
<path d="M924.2 330.0L935.7 349.0L912.7 349.0Z" fill="rgba(255,255,255,0.8)" stroke="#EDE46A" stroke-width="1.8"/>
<path d="M918.6 347.7L930.1 366.7L907.1 366.7Z" fill="rgba(255,255,255,0.8)" stroke="#EDE46A" stroke-width="1.8"/>
<path d="M913.7 366.1L925.2 385.1L902.2 385.1Z" fill="rgba(255,255,255,0.8)" stroke="#EDE46A" stroke-width="1.8"/>
<path d="M909.4 384.8L920.9 403.8L897.9 403.8Z" fill="rgba(255,255,255,0.8)" stroke="#EDE46A" stroke-width="1.8"/>
<path d="M905.6 403.9L917.1 422.9L894.1 422.9Z" fill="rgba(255,255,255,0.8)" stroke="#EDE46A" stroke-width="1.8"/>
<path d="M902.2 423.1L913.7 442.1L890.7 442.1Z" fill="rgba(255,255,255,0.8)" stroke="#EDE46A" stroke-width="1.8"/>
<path d="M899.0 442.5L910.5 461.5L887.5 461.5Z" fill="rgba(255,255,255,0.8)" stroke="#EDE46A" stroke-width="1.8"/>
<path d="M896.1 461.9L907.6 480.9L884.6 480.9Z" fill="rgba(255,255,255,0.8)" stroke="#EDE46A" stroke-width="1.8"/>
<path d="M893.3 481.4L904.8 500.4L881.8 500.4Z" fill="rgba(255,255,255,0.8)" stroke="#EDE46A" stroke-width="1.8"/>
<path d="M890.6 500.9L902.1 519.9L879.1 519.9Z" fill="rgba(255,255,255,0.8)" stroke="#EDE46A" stroke-width="1.8"/>
<path d="M887.9 520.5L899.4 539.5L876.4 539.5Z" fill="rgba(255,255,255,0.8)" stroke="#EDE46A" stroke-width="1.8"/>
<path d="M885.4 540.1L896.9 559.1L873.9 559.1Z" fill="rgba(255,255,255,0.8)" stroke="#EDE46A" stroke-width="1.8"/>
<path d="M882.8 559.6L894.3 578.6L871.3 578.6Z" fill="rgba(255,255,255,0.8)" stroke="#EDE46A" stroke-width="1.8"/>
<path d="M880.1 579.2L891.6 598.2L868.6 598.2Z" fill="rgba(255,255,255,0.8)" stroke="#EDE46A" stroke-width="1.8"/>
<path d="M877.4 598.7L888.9 617.7L865.9 617.7Z" fill="rgba(255,255,255,0.8)" stroke="#EDE46A" stroke-width="1.8"/>
<path d="M874.7 618.2L886.2 637.2L863.2 637.2Z" fill="rgba(255,255,255,0.8)" stroke="#EDE46A" stroke-width="1.8"/>
<path d="M871.8 637.7L883.3 656.7L860.3 656.7Z" fill="rgba(255,255,255,0.8)" stroke="#EDE46A" stroke-width="1.8"/>
<path d="M868.7 657.1L880.2 676.1L857.2 676.1Z" fill="rgba(255,255,255,0.8)" stroke="#EDE46A" stroke-width="1.8"/>
<path d="M865.5 676.4L877.0 695.4L854.0 695.4Z" fill="rgba(255,255,255,0.8)" stroke="#EDE46A" stroke-width="1.8"/>
<path d="M861.9 695.6L873.4 714.6L850.4 714.6Z" fill="rgba(255,255,255,0.8)" stroke="#EDE46A" stroke-width="1.8"/>
<path d="M857.9 714.5L869.4 733.5L846.4 733.5Z" fill="rgba(255,255,255,0.8)" stroke="#EDE46A" stroke-width="1.8"/>
<path d="M853.5 733.2L865.0 752.2L842.0 752.2Z" fill="rgba(255,255,255,0.8)" stroke="#EDE46A" stroke-width="1.8"/>
<path d="M848.3 751.3L859.8 770.3L836.8 770.3Z" fill="rgba(255,255,255,0.8)" stroke="#EDE46A" stroke-width="1.8"/>
<path d="M842.3 768.7L853.8 787.7L830.8 787.7Z" fill="rgba(255,255,255,0.8)" stroke="#EDE46A" stroke-width="1.8"/>
<path d="M835.3 784.9L846.8 803.9L823.8 803.9Z" fill="rgba(255,255,255,0.8)" stroke="#EDE46A" stroke-width="1.8"/>
<path d="M827.2 799.1L838.7 818.1L815.7 818.1Z" fill="rgba(255,255,255,0.8)" stroke="#EDE46A" stroke-width="1.8"/>
<path d="M818.5 810.9L830.0 829.9L807.0 829.9Z" fill="rgba(255,255,255,0.8)" stroke="#EDE46A" stroke-width="1.8"/>
<path d="M816.5 813.3L828.0 832.3L805.0 832.3Z" fill="rgba(255,255,255,0.8)" stroke="#EDE46A" stroke-width="1.8"/>
<path d="M814.7 815.3L826.2 834.3L803.2 834.3Z" fill="rgba(255,255,255,0.8)" stroke="#EDE46A" stroke-width="1.8"/>
<path d="M812.9 817.1L824.4 836.1L801.4 836.1Z" fill="rgba(255,255,255,0.8)" stroke="#EDE46A" stroke-width="1.8"/>
<path d="M811.1 818.9L822.6 837.9L799.6 837.9Z" fill="rgba(255,255,255,0.8)" stroke="#EDE46A" stroke-width="1.8"/>
<path d="M809.4 820.5L820.9 839.5L797.9 839.5Z" fill="rgba(255,255,255,0.8)" stroke="#EDE46A" stroke-width="1.8"/>
<path d="M807.6 822.1L819.1 841.1L796.1 841.1Z" fill="rgba(255,255,255,0.8)" stroke="#EDE46A" stroke-width="1.8"/>
<path d="M805.9 823.6L817.4 842.6L794.4 842.6Z" fill="rgba(255,255,255,0.8)" stroke="#EDE46A" stroke-width="1.8"/>
<path d="M804.2 825.0L815.7 844.0L792.7 844.0Z" fill="rgba(255,255,255,0.8)" stroke="#EDE46A" stroke-width="1.8"/>
<path d="M802.5 826.3L814.0 845.3L791.0 845.3Z" fill="rgba(255,255,255,0.8)" stroke="#EDE46A" stroke-width="1.8"/>
<path d="M800.9 827.6L812.4 846.6L789.4 846.6Z" fill="rgba(255,255,255,0.8)" stroke="#EDE46A" stroke-width="1.8"/>
<path d="M799.2 828.8L810.7 847.8L787.7 847.8Z" fill="rgba(255,255,255,0.8)" stroke="#EDE46A" stroke-width="1.8"/>
<path d="M797.6 830.0L809.1 849.0L786.1 849.0Z" fill="rgba(255,255,255,0.8)" stroke="#EDE46A" stroke-width="1.8"/>
<path d="M796.0 831.1L807.5 850.1L784.5 850.1Z" fill="rgba(255,255,255,0.8)" stroke="#EDE46A" stroke-width="1.8"/>
<path d="M794.4 832.1L805.9 851.1L782.9 851.1Z" fill="rgba(255,255,255,0.8)" stroke="#EDE46A" stroke-width="1.8"/>
<path d="M792.8 833.1L804.3 852.1L781.3 852.1Z" fill="rgba(255,255,255,0.8)" stroke="#EDE46A" stroke-width="1.8"/>
<path d="M791.2 834.0L802.7 853.0L779.7 853.0Z" fill="rgba(255,255,255,0.8)" stroke="#EDE46A" stroke-width="1.8"/>
<path d="M789.7 834.9L801.2 853.9L778.2 853.9Z" fill="rgba(255,255,255,0.8)" stroke="#EDE46A" stroke-width="1.8"/>
<path d="M788.2 835.8L799.7 854.8L776.7 854.8Z" fill="rgba(255,255,255,0.8)" stroke="#EDE46A" stroke-width="1.8"/>
<path d="M786.7 836.6L798.2 855.6L775.2 855.6Z" fill="rgba(255,255,255,0.8)" stroke="#EDE46A" stroke-width="1.8"/>
<path d="M785.2 837.4L796.7 856.4L773.7 856.4Z" fill="rgba(255,255,255,0.8)" stroke="#EDE46A" stroke-width="1.8"/>
<path d="M783.8 838.2L795.3 857.2L772.3 857.2Z" fill="rgba(255,255,255,0.8)" stroke="#EDE46A" stroke-width="1.8"/>
<path d="M782.3 838.9L793.8 857.9L770.8 857.9Z" fill="rgba(255,255,255,0.8)" stroke="#EDE46A" stroke-width="1.8"/>
<path d="M780.9 839.6L792.4 858.6L769.4 858.6Z" fill="rgba(255,255,255,0.8)" stroke="#EDE46A" stroke-width="1.8"/>
<path d="M779.5 840.3L791.0 859.3L768.0 859.3Z" fill="rgba(255,255,255,0.8)" stroke="#EDE46A" stroke-width="1.8"/>
<path d="M778.1 840.9L789.6 859.9L766.6 859.9Z" fill="rgba(255,255,255,0.8)" stroke="#EDE46A" stroke-width="1.8"/>
<path d="M751.1 850.9L762.6 869.9L739.6 869.9Z" fill="rgba(255,255,255,0.8)" stroke="#EDE46A" stroke-width="1.8"/>
<path d="M724.5 857.4L736.0 876.4L713.0 876.4Z" fill="rgba(255,255,255,0.8)" stroke="#EDE46A" stroke-width="1.8"/>
<path d="M697.8 862.0L709.3 881.0L686.3 881.0Z" fill="rgba(255,255,255,0.8)" stroke="#EDE46A" stroke-width="1.8"/>
<path d="M671.2 865.5L682.7 884.5L659.7 884.5Z" fill="rgba(255,255,255,0.8)" stroke="#EDE46A" stroke-width="1.8"/>
<path d="M644.6 868.2L656.1 887.2L633.1 887.2Z" fill="rgba(255,255,255,0.8)" stroke="#EDE46A" stroke-width="1.8"/>
<path d="M618.0 870.4L629.5 889.4L606.5 889.4Z" fill="rgba(255,255,255,0.8)" stroke="#EDE46A" stroke-width="1.8"/>
<path d="M591.3 872.2L602.8 891.2L579.8 891.2Z" fill="rgba(255,255,255,0.8)" stroke="#EDE46A" stroke-width="1.8"/>
<path d="M564.7 873.7L576.2 892.7L553.2 892.7Z" fill="rgba(255,255,255,0.8)" stroke="#EDE46A" stroke-width="1.8"/>
<path d="M538.1 874.9L549.6 893.9L526.6 893.9Z" fill="rgba(255,255,255,0.8)" stroke="#EDE46A" stroke-width="1.8"/>
<path d="M511.5 876.0L523.0 895.0L500.0 895.0Z" fill="rgba(255,255,255,0.8)" stroke="#EDE46A" stroke-width="1.8"/>
<path d="M484.8 876.9L496.3 895.9L473.3 895.9Z" fill="rgba(255,255,255,0.8)" stroke="#EDE46A" stroke-width="1.8"/>
<path d="M458.2 877.7L469.7 896.7L446.7 896.7Z" fill="rgba(255,255,255,0.8)" stroke="#EDE46A" stroke-width="1.8"/>
<path d="M431.6 878.4L443.1 897.4L420.1 897.4Z" fill="rgba(255,255,255,0.8)" stroke="#EDE46A" stroke-width="1.8"/>
<path d="M405.0 879.1L416.5 898.1L393.5 898.1Z" fill="rgba(255,255,255,0.8)" stroke="#EDE46A" stroke-width="1.8"/>
<path d="M378.3 879.6L389.8 898.6L366.8 898.6Z" fill="rgba(255,255,255,0.8)" stroke="#EDE46A" stroke-width="1.8"/>
<path d="M351.7 880.2L363.2 899.2L340.2 899.2Z" fill="rgba(255,255,255,0.8)" stroke="#EDE46A" stroke-width="1.8"/>
<path d="M778.8 840.6L790.3 859.6L767.3 859.6Z" fill="rgba(255,255,255,0.8)" stroke="#EDE46A" stroke-width="1.8"/>
<path d="M780.2 840.0L791.7 859.0L768.7 859.0Z" fill="rgba(255,255,255,0.8)" stroke="#EDE46A" stroke-width="1.8"/>
<path d="M781.6 839.3L793.1 858.3L770.1 858.3Z" fill="rgba(255,255,255,0.8)" stroke="#EDE46A" stroke-width="1.8"/>
<path d="M783.1 838.5L794.6 857.5L771.6 857.5Z" fill="rgba(255,255,255,0.8)" stroke="#EDE46A" stroke-width="1.8"/>
<path d="M784.5 837.8L796.0 856.8L773.0 856.8Z" fill="rgba(255,255,255,0.8)" stroke="#EDE46A" stroke-width="1.8"/>
<path d="M786.0 837.0L797.5 856.0L774.5 856.0Z" fill="rgba(255,255,255,0.8)" stroke="#EDE46A" stroke-width="1.8"/>
<path d="M787.5 836.2L799.0 855.2L776.0 855.2Z" fill="rgba(255,255,255,0.8)" stroke="#EDE46A" stroke-width="1.8"/>
<path d="M789.0 835.4L800.5 854.4L777.5 854.4Z" fill="rgba(255,255,255,0.8)" stroke="#EDE46A" stroke-width="1.8"/>
<path d="M790.5 834.5L802.0 853.5L779.0 853.5Z" fill="rgba(255,255,255,0.8)" stroke="#EDE46A" stroke-width="1.8"/>
<path d="M792.0 833.6L803.5 852.6L780.5 852.6Z" fill="rgba(255,255,255,0.8)" stroke="#EDE46A" stroke-width="1.8"/>
<path d="M793.6 832.6L805.1 851.6L782.1 851.6Z" fill="rgba(255,255,255,0.8)" stroke="#EDE46A" stroke-width="1.8"/>
<path d="M795.2 831.6L806.7 850.6L783.7 850.6Z" fill="rgba(255,255,255,0.8)" stroke="#EDE46A" stroke-width="1.8"/>
<path d="M796.8 830.5L808.3 849.5L785.3 849.5Z" fill="rgba(255,255,255,0.8)" stroke="#EDE46A" stroke-width="1.8"/>
<path d="M798.4 829.4L809.9 848.4L786.9 848.4Z" fill="rgba(255,255,255,0.8)" stroke="#EDE46A" stroke-width="1.8"/>
<path d="M800.0 828.2L811.5 847.2L788.5 847.2Z" fill="rgba(255,255,255,0.8)" stroke="#EDE46A" stroke-width="1.8"/>
<path d="M801.7 827.0L813.2 846.0L790.2 846.0Z" fill="rgba(255,255,255,0.8)" stroke="#EDE46A" stroke-width="1.8"/>
<path d="M803.4 825.7L814.9 844.7L791.9 844.7Z" fill="rgba(255,255,255,0.8)" stroke="#EDE46A" stroke-width="1.8"/>
<path d="M805.1 824.3L816.6 843.3L793.6 843.3Z" fill="rgba(255,255,255,0.8)" stroke="#EDE46A" stroke-width="1.8"/>
<path d="M806.8 822.8L818.3 841.8L795.3 841.8Z" fill="rgba(255,255,255,0.8)" stroke="#EDE46A" stroke-width="1.8"/>
<path d="M808.5 821.3L820.0 840.3L797.0 840.3Z" fill="rgba(255,255,255,0.8)" stroke="#EDE46A" stroke-width="1.8"/>
<path d="M810.3 819.7L821.8 838.7L798.8 838.7Z" fill="rgba(255,255,255,0.8)" stroke="#EDE46A" stroke-width="1.8"/>
<path d="M812.0 818.0L823.5 837.0L800.5 837.0Z" fill="rgba(255,255,255,0.8)" stroke="#EDE46A" stroke-width="1.8"/>
<path d="M813.8 816.2L825.3 835.2L802.3 835.2Z" fill="rgba(255,255,255,0.8)" stroke="#EDE46A" stroke-width="1.8"/>
<path d="M815.6 814.3L827.1 833.3L804.1 833.3Z" fill="rgba(255,255,255,0.8)" stroke="#EDE46A" stroke-width="1.8"/>
<path d="M817.3 812.3L828.8 831.3L805.8 831.3Z" fill="rgba(255,255,255,0.8)" stroke="#EDE46A" stroke-width="1.8"/>
<path d="M822.9 805.3L834.4 824.3L811.4 824.3Z" fill="rgba(255,255,255,0.8)" stroke="#EDE46A" stroke-width="1.8"/>
<path d="M831.4 792.3L842.9 811.3L819.9 811.3Z" fill="rgba(255,255,255,0.8)" stroke="#EDE46A" stroke-width="1.8"/>
<path d="M838.9 777.0L850.4 796.0L827.4 796.0Z" fill="rgba(255,255,255,0.8)" stroke="#EDE46A" stroke-width="1.8"/>
<path d="M845.4 760.2L856.9 779.2L833.9 779.2Z" fill="rgba(255,255,255,0.8)" stroke="#EDE46A" stroke-width="1.8"/>
<path d="M851.0 742.3L862.5 761.3L839.5 761.3Z" fill="rgba(255,255,255,0.8)" stroke="#EDE46A" stroke-width="1.8"/>
<path d="M855.8 723.9L867.3 742.9L844.3 742.9Z" fill="rgba(255,255,255,0.8)" stroke="#EDE46A" stroke-width="1.8"/>
<path d="M860.0 705.1L871.5 724.1L848.5 724.1Z" fill="rgba(255,255,255,0.8)" stroke="#EDE46A" stroke-width="1.8"/>
<path d="M863.7 686.0L875.2 705.0L852.2 705.0Z" fill="rgba(255,255,255,0.8)" stroke="#EDE46A" stroke-width="1.8"/>
<path d="M867.1 666.8L878.6 685.8L855.6 685.8Z" fill="rgba(255,255,255,0.8)" stroke="#EDE46A" stroke-width="1.8"/>
<path d="M870.3 647.4L881.8 666.4L858.8 666.4Z" fill="rgba(255,255,255,0.8)" stroke="#EDE46A" stroke-width="1.8"/>
<path d="M873.2 627.9L884.7 646.9L861.7 646.9Z" fill="rgba(255,255,255,0.8)" stroke="#EDE46A" stroke-width="1.8"/>
<path d="M876.1 608.5L887.6 627.5L864.6 627.5Z" fill="rgba(255,255,255,0.8)" stroke="#EDE46A" stroke-width="1.8"/>
<path d="M878.8 588.9L890.3 607.9L867.3 607.9Z" fill="rgba(255,255,255,0.8)" stroke="#EDE46A" stroke-width="1.8"/>
<path d="M881.4 569.4L892.9 588.4L869.9 588.4Z" fill="rgba(255,255,255,0.8)" stroke="#EDE46A" stroke-width="1.8"/>
<path d="M884.1 549.8L895.6 568.8L872.6 568.8Z" fill="rgba(255,255,255,0.8)" stroke="#EDE46A" stroke-width="1.8"/>
<path d="M886.6 530.3L898.1 549.3L875.1 549.3Z" fill="rgba(255,255,255,0.8)" stroke="#EDE46A" stroke-width="1.8"/>
<path d="M889.2 510.7L900.7 529.7L877.7 529.7Z" fill="rgba(255,255,255,0.8)" stroke="#EDE46A" stroke-width="1.8"/>
<path d="M891.9 491.2L903.4 510.2L880.4 510.2Z" fill="rgba(255,255,255,0.8)" stroke="#EDE46A" stroke-width="1.8"/>
<path d="M894.7 471.6L906.2 490.6L883.2 490.6Z" fill="rgba(255,255,255,0.8)" stroke="#EDE46A" stroke-width="1.8"/>
<path d="M897.5 452.2L909.0 471.2L886.0 471.2Z" fill="rgba(255,255,255,0.8)" stroke="#EDE46A" stroke-width="1.8"/>
<path d="M900.6 432.8L912.1 451.8L889.1 451.8Z" fill="rgba(255,255,255,0.8)" stroke="#EDE46A" stroke-width="1.8"/>
<path d="M903.9 413.5L915.4 432.5L892.4 432.5Z" fill="rgba(255,255,255,0.8)" stroke="#EDE46A" stroke-width="1.8"/>
<path d="M907.5 394.3L919.0 413.3L896.0 413.3Z" fill="rgba(255,255,255,0.8)" stroke="#EDE46A" stroke-width="1.8"/>
<path d="M911.5 375.4L923.0 394.4L900.0 394.4Z" fill="rgba(255,255,255,0.8)" stroke="#EDE46A" stroke-width="1.8"/>
<path d="M916.0 356.8L927.5 375.8L904.5 375.8Z" fill="rgba(255,255,255,0.8)" stroke="#EDE46A" stroke-width="1.8"/>
<path d="M921.3 338.7L932.8 357.7L909.8 357.7Z" fill="rgba(255,255,255,0.8)" stroke="#EDE46A" stroke-width="1.8"/>
<path d="M927.4 321.5L938.9 340.5L915.9 340.5Z" fill="rgba(255,255,255,0.8)" stroke="#EDE46A" stroke-width="1.8"/>
<path d="M934.6 305.5L946.1 324.5L923.1 324.5Z" fill="rgba(255,255,255,0.8)" stroke="#EDE46A" stroke-width="1.8"/>
<path d="M942.7 291.5L954.2 310.5L931.2 310.5Z" fill="rgba(255,255,255,0.8)" stroke="#EDE46A" stroke-width="1.8"/>
<path d="M951.5 280.0L963.0 299.0L940.0 299.0Z" fill="rgba(255,255,255,0.8)" stroke="#EDE46A" stroke-width="1.8"/>
<path d="M960.3 270.9L971.8 289.9L948.8 289.9Z" fill="rgba(255,255,255,0.8)" stroke="#EDE46A" stroke-width="1.8"/>
<path d="M968.8 264.0L980.3 283.0L957.3 283.0Z" fill="rgba(255,255,255,0.8)" stroke="#EDE46A" stroke-width="1.8"/>
<path d="M976.8 258.5L988.3 277.5L965.3 277.5Z" fill="rgba(255,255,255,0.8)" stroke="#EDE46A" stroke-width="1.8"/>
<path d="M984.4 254.2L995.9 273.2L972.9 273.2Z" fill="rgba(255,255,255,0.8)" stroke="#EDE46A" stroke-width="1.8"/>
</g>
<line x1="312" y1="124.9" x2="344.5" y2="124.9" stroke="#707070" stroke-width="2.2"/>
<line x1="368.7" y1="124.9" x2="401" y2="124.9" stroke="#707070" stroke-width="2.2"/>
<circle cx="356.6" cy="124.9" r="9.2" fill="#009000" stroke="#505050" stroke-width="1.5"/>
<text x="410.5" y="136.9" font-size="38.5">2% wt.Fe<tspan font-size="26.5" dy="11">3</tspan><tspan dy="-11">O</tspan><tspan font-size="26.5" dy="11">4</tspan><tspan dy="-11" dx="1.5"> T= 2K</tspan></text>
<circle cx="356.6" cy="179.6" r="9.0" fill="#fff" stroke="#1A9A1A" stroke-width="2"/>
<text x="410.5" y="193.6" font-size="38.5">2% wt.Fe<tspan font-size="26.5" dy="11">3</tspan><tspan dy="-11">O</tspan><tspan font-size="26.5" dy="11">4</tspan><tspan dy="-11" dx="1.5"> T= 300K</tspan></text>
<line x1="312" y1="284.2" x2="344.5" y2="284.2" stroke="#ececec" stroke-width="2.2"/>
<line x1="368.7" y1="284.2" x2="401" y2="284.2" stroke="#ececec" stroke-width="2.2"/>
<path d="M356.6 272.9L367.9 284.2L356.6 295.5L345.3 284.2Z" fill="#EC008C" stroke="#000" stroke-width="1.1"/>
<text x="410.5" y="296.1" font-size="38.5">6% wt.Fe<tspan font-size="26.5" dy="11">3</tspan><tspan dy="-11">O</tspan><tspan font-size="26.5" dy="11">4</tspan><tspan dy="-11" dx="1.5"> T= 2K</tspan></text>
<line x1="312" y1="338.4" x2="344.5" y2="338.4" stroke="#222" stroke-width="2.2"/>
<line x1="368.7" y1="338.4" x2="401" y2="338.4" stroke="#222" stroke-width="2.2"/>
<path d="M356.6 326.8L368.2 338.4L356.6 350.0L345.0 338.4Z" fill="#fff" stroke="#D81818" stroke-width="2"/>
<text x="410.5" y="352.8" font-size="38.5">6% wt.Fe<tspan font-size="26.5" dy="11">3</tspan><tspan dy="-11">O</tspan><tspan font-size="26.5" dy="11">4</tspan><tspan dy="-11" dx="1.5"> T= 300K</tspan></text>
<path d="M356.6 429.8L367.9 448.2L345.4 448.2Z" fill="#E8E070" stroke="#6a6a40" stroke-width="1.1"/>
<text x="410.5" y="455.0" font-size="38.5">100% wt.Fe<tspan font-size="26.5" dy="11">3</tspan><tspan dy="-11">O</tspan><tspan font-size="26.5" dy="11">4</tspan><tspan dy="-11" dx="1.5"> T= 2K</tspan></text>
<line x1="312" y1="497.6" x2="344.5" y2="497.6" stroke="#555" stroke-width="2.2"/>
<line x1="368.7" y1="497.6" x2="401" y2="497.6" stroke="#555" stroke-width="2.2"/>
<path d="M356.6 484.1L367.6 503.1L345.6 503.1Z" fill="#fff" stroke="#F0E890" stroke-width="1.2"/>
<text x="410.5" y="510.1" font-size="38.5">100% wt.Fe<tspan font-size="26.5" dy="11">3</tspan><tspan dy="-11">O</tspan><tspan font-size="26.5" dy="11">4</tspan><tspan dy="-11" dx="1.5"> T= 300K</tspan></text>
<text transform="translate(213.3,59.7) scale(0.956,1)" text-anchor="end" font-size="51">100</text>
<text transform="translate(213.3,188.0) scale(0.956,1)" text-anchor="end" font-size="51">75</text>
<text transform="translate(213.3,316.2) scale(0.956,1)" text-anchor="end" font-size="51">50</text>
<text transform="translate(213.3,444.5) scale(0.956,1)" text-anchor="end" font-size="51">25</text>
<text transform="translate(213.3,572.8) scale(0.956,1)" text-anchor="end" font-size="51">0</text>
<text transform="translate(213.3,701.1) scale(0.956,1)" text-anchor="end" font-size="51">−25</text>
<text transform="translate(213.3,829.3) scale(0.956,1)" text-anchor="end" font-size="51">−50</text>
<text transform="translate(213.3,957.6) scale(0.956,1)" text-anchor="end" font-size="51">−75</text>
<text transform="translate(213.3,1085.9) scale(0.956,1)" text-anchor="end" font-size="51">−100</text>
<text transform="translate(247.3,1146.6) scale(0.96,1)" text-anchor="middle" font-size="53">−6</text>
<text transform="translate(459.6,1146.6) scale(0.96,1)" text-anchor="middle" font-size="53">−4</text>
<text transform="translate(671.9,1146.6) scale(0.96,1)" text-anchor="middle" font-size="53">−2</text>
<text transform="translate(884.2,1146.6) scale(0.96,1)" text-anchor="middle" font-size="53">0</text>
<text transform="translate(1096.5,1146.6) scale(0.96,1)" text-anchor="middle" font-size="53">2</text>
<text transform="translate(1308.8,1146.6) scale(0.96,1)" text-anchor="middle" font-size="53">4</text>
<text transform="translate(1521.1,1146.6) scale(0.96,1)" text-anchor="middle" font-size="53">6</text>
<text x="783" y="1249.3" font-size="63">μ<tspan font-size="44" dy="19">0</tspan><tspan dy="-19">H (T)</tspan></text>
<text transform="translate(59.4,760.7) rotate(-90)" font-size="64">M (emu/g<tspan font-size="42" dy="16.6">Fe</tspan><tspan font-size="28" dy="11.8">3</tspan><tspan font-size="42" dy="-11.8">O</tspan><tspan font-size="28" dy="11.8">4</tspan><tspan font-size="64" dy="-28.4" dx="4">)</tspan></text>
</svg>
</body></html>
